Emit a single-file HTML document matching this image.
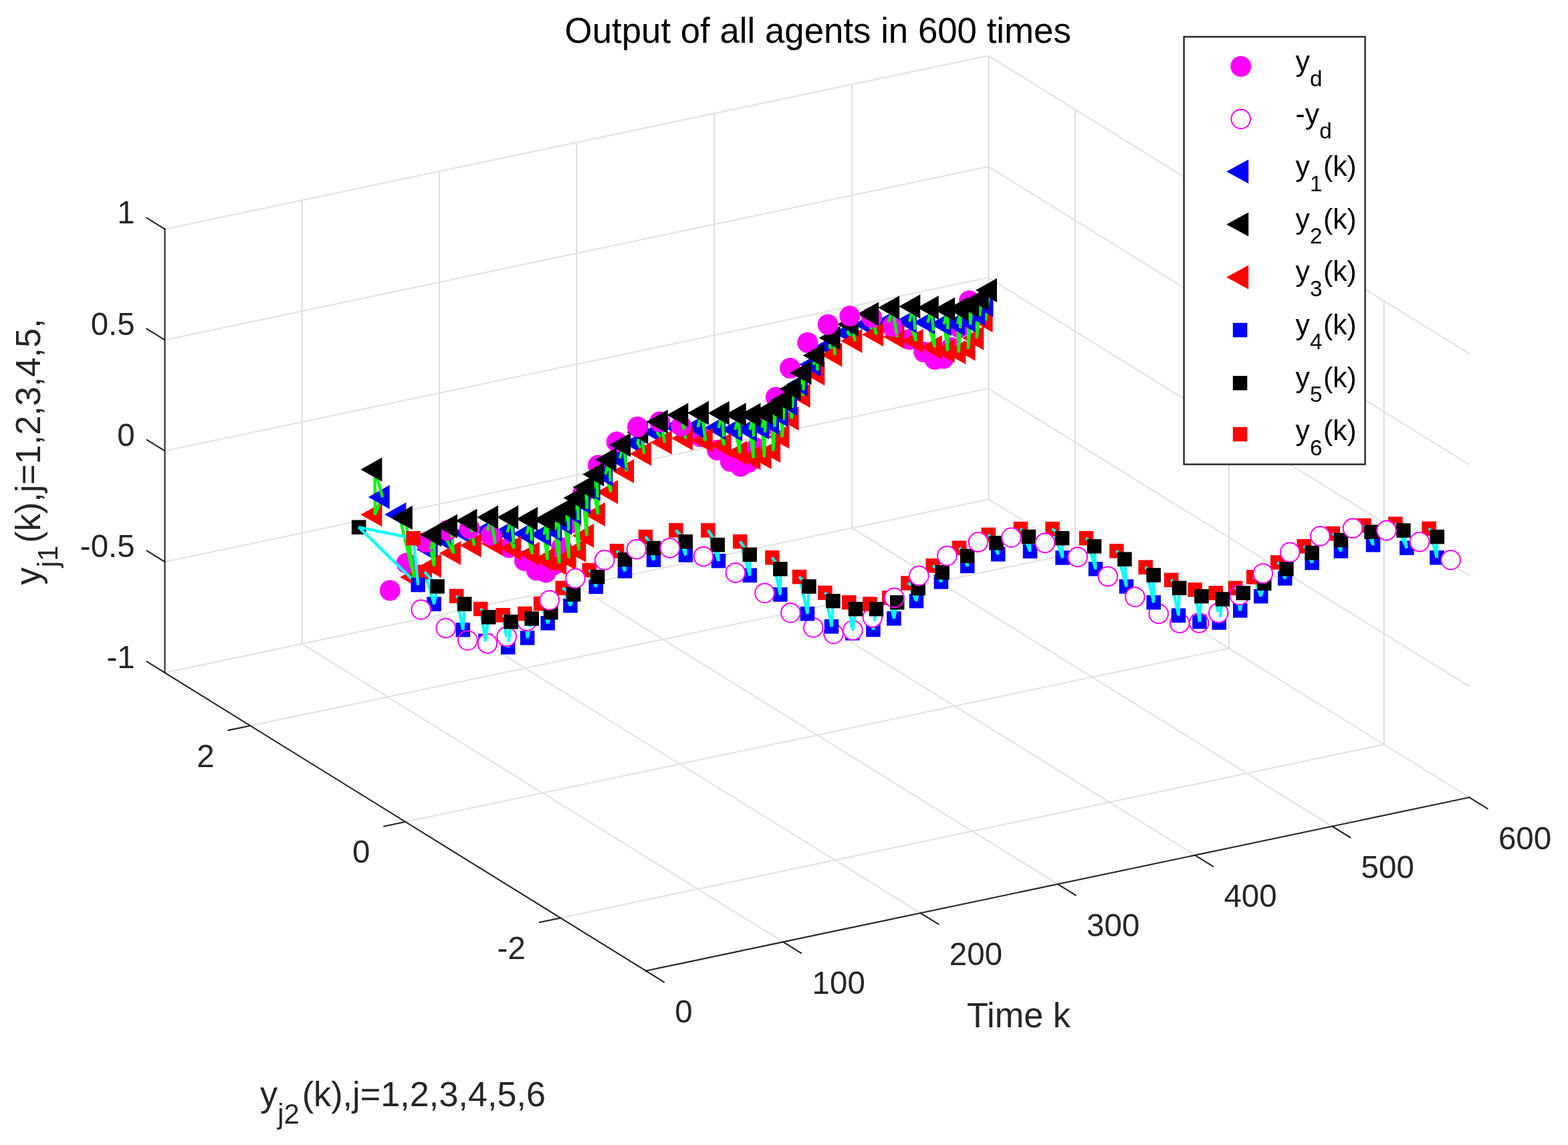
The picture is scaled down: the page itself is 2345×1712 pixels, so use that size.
<!DOCTYPE html>
<html><head><meta charset="utf-8"><title>Output of all agents in 600 times</title>
<style>html,body{margin:0;padding:0;background:#fff}svg{display:block}</style></head>
<body>
<svg width="2345" height="1712" viewBox="0 0 2345 1712" font-family="'Liberation Sans', sans-serif">
<g fill="none" stroke-linecap="butt">
<line x1="1171.3" y1="1408.4" x2="451.6" y2="962.7" stroke="#e3e3e3" stroke-width="2.1"/>
<line x1="1376.5" y1="1365.2" x2="657" y2="919.5" stroke="#e3e3e3" stroke-width="2.1"/>
<line x1="1581.8" y1="1321.9" x2="862.6" y2="876.2" stroke="#e3e3e3" stroke-width="2.1"/>
<line x1="1787.1" y1="1278.7" x2="1068" y2="832.9" stroke="#e3e3e3" stroke-width="2.1"/>
<line x1="1992.3" y1="1235.5" x2="1274.4" y2="789.5" stroke="#e3e3e3" stroke-width="2.1"/>
<line x1="2197.6" y1="1192.3" x2="1478.5" y2="746.5" stroke="#e3e3e3" stroke-width="2.1"/>
<line x1="372.6" y1="1085.4" x2="1607.8" y2="826.9" stroke="#e3e3e3" stroke-width="2.1"/>
<line x1="605.3" y1="1229" x2="1837.8" y2="969.4" stroke="#e3e3e3" stroke-width="2.1"/>
<line x1="838" y1="1372.6" x2="2069.8" y2="1113.1" stroke="#e3e3e3" stroke-width="2.1"/>
<line x1="246.5" y1="1005.9" x2="1478.1" y2="746.6" stroke="#e3e3e3" stroke-width="2.1"/>
<line x1="451.6" y1="962.7" x2="451.6" y2="299.4" stroke="#dfdfdf" stroke-width="2.2"/>
<line x1="657" y1="919.5" x2="657" y2="256.2" stroke="#dfdfdf" stroke-width="2.2"/>
<line x1="862.6" y1="876.2" x2="862.6" y2="212.9" stroke="#dfdfdf" stroke-width="2.2"/>
<line x1="1068" y1="832.9" x2="1068" y2="169.6" stroke="#dfdfdf" stroke-width="2.2"/>
<line x1="1274.4" y1="789.5" x2="1274.4" y2="126.2" stroke="#dfdfdf" stroke-width="2.2"/>
<line x1="1478.5" y1="746.5" x2="1478.5" y2="83.2" stroke="#dfdfdf" stroke-width="2.2"/>
<line x1="246.5" y1="840.1" x2="1478.1" y2="580.8" stroke="#e3e3e3" stroke-width="2.1"/>
<line x1="246.5" y1="674.2" x2="1478.1" y2="415" stroke="#e3e3e3" stroke-width="2.1"/>
<line x1="246.5" y1="508.4" x2="1478.1" y2="249.1" stroke="#e3e3e3" stroke-width="2.1"/>
<line x1="246.5" y1="342.6" x2="1478.1" y2="83.3" stroke="#e3e3e3" stroke-width="2.1"/>
<line x1="1607.8" y1="826.9" x2="1607.8" y2="163.6" stroke="#dfdfdf" stroke-width="2.2"/>
<line x1="1837.8" y1="969.4" x2="1837.8" y2="306.1" stroke="#dfdfdf" stroke-width="2.2"/>
<line x1="2069.8" y1="1113.1" x2="2069.8" y2="449.8" stroke="#dfdfdf" stroke-width="2.2"/>
<line x1="1478.1" y1="580.8" x2="2197.6" y2="1026.5" stroke="#e3e3e3" stroke-width="2.1"/>
<line x1="1478.1" y1="415" x2="2197.6" y2="860.6" stroke="#e3e3e3" stroke-width="2.1"/>
<line x1="1478.1" y1="249.1" x2="2197.6" y2="694.8" stroke="#e3e3e3" stroke-width="2.1"/>
<line x1="1478.1" y1="83.3" x2="2197.6" y2="529" stroke="#e3e3e3" stroke-width="2.1"/>
</g>
<g fill="none" stroke="#262626" stroke-width="2.1" stroke-linecap="square">
<line x1="246.5" y1="1005.9" x2="246.5" y2="342.6"/>
<line x1="246.5" y1="1005.9" x2="966" y2="1451.6"/>
<line x1="966" y1="1451.6" x2="2197.6" y2="1192.3"/>
<line x1="246.5" y1="1005.9" x2="219.6" y2="989.2"/>
<line x1="246.5" y1="840.1" x2="219.6" y2="823.4"/>
<line x1="246.5" y1="674.2" x2="219.6" y2="657.6"/>
<line x1="246.5" y1="508.4" x2="219.6" y2="491.7"/>
<line x1="246.5" y1="342.6" x2="219.6" y2="325.9"/>
<line x1="372.6" y1="1085.4" x2="341.6" y2="1091.9"/>
<line x1="605.3" y1="1229" x2="574.3" y2="1235.5"/>
<line x1="838" y1="1372.6" x2="807" y2="1379.1"/>
<line x1="966" y1="1451.6" x2="992.9" y2="1468.3"/>
<line x1="1171.3" y1="1408.4" x2="1198.2" y2="1425.1"/>
<line x1="1376.5" y1="1365.2" x2="1403.5" y2="1381.9"/>
<line x1="1581.8" y1="1321.9" x2="1608.7" y2="1338.6"/>
<line x1="1787.1" y1="1278.7" x2="1814" y2="1295.4"/>
<line x1="1992.3" y1="1235.5" x2="2019.3" y2="1252.2"/>
<line x1="2197.6" y1="1192.3" x2="2224.5" y2="1209"/>
</g>
<text x="201.7" y="998.9" font-size="47.5" text-anchor="end" fill="#262626">-1</text>
<text x="201.7" y="833.1" font-size="47.5" text-anchor="end" fill="#262626">-0.5</text>
<text x="201.7" y="667.3" font-size="47.5" text-anchor="end" fill="#262626">0</text>
<text x="201.7" y="501.4" font-size="47.5" text-anchor="end" fill="#262626">0.5</text>
<text x="201.7" y="333.6" font-size="47.5" text-anchor="end" fill="#262626">1</text>
<text x="320.6" y="1146.7" font-size="47.5" text-anchor="end" fill="#262626">2</text>
<text x="553.3" y="1290.3" font-size="47.5" text-anchor="end" fill="#262626">0</text>
<text x="786" y="1433.9" font-size="47.5" text-anchor="end" fill="#262626">-2</text>
<text x="1009.3" y="1529.1" font-size="47.5" text-anchor="start" fill="#262626">0</text>
<text x="1214.6" y="1485.9" font-size="47.5" text-anchor="start" fill="#262626">100</text>
<text x="1419.8" y="1442.7" font-size="47.5" text-anchor="start" fill="#262626">200</text>
<text x="1625.1" y="1399.5" font-size="47.5" text-anchor="start" fill="#262626">300</text>
<text x="1830.4" y="1356.2" font-size="47.5" text-anchor="start" fill="#262626">400</text>
<text x="2035.6" y="1313" font-size="47.5" text-anchor="start" fill="#262626">500</text>
<text x="2240.9" y="1269.8" font-size="47.5" text-anchor="start" fill="#262626">600</text>
<text x="1223.2" y="63.8" font-size="52.8" text-anchor="middle" fill="#000">Output of all agents in 600 times</text>
<text x="1523.5" y="1536.4" font-size="52.25" text-anchor="middle" fill="#262626">Time k</text>
<text x="389" y="1653.8" font-size="52.25" text-anchor="start" fill="#262626"><tspan>y</tspan><tspan font-size="41.8" dy="26.1">j2</tspan><tspan dy="-26.1" dx="4" font-size="1">&#8203;</tspan><tspan>(k),j=1,2,3,4,5,6</tspan></text>
<g transform="translate(59.9,874.4) rotate(-90)">
<text x="0" y="0" font-size="52.25" text-anchor="start" fill="#262626"><tspan>y</tspan><tspan font-size="41.8" dy="26.1">j1</tspan><tspan dy="-26.1" dx="4" font-size="1">&#8203;</tspan><tspan>(k),j=1,2,3,4,5,</tspan></text>
</g>
<g>
<circle cx="1449.7" cy="449.7" r="15.5" fill="#ff00ff"/>
<circle cx="1434.6" cy="489.7" r="15.5" fill="#ff00ff"/>
<path d="M1452.6 479l32 -18v36z" fill="#ff0000"/>
<path d="M1473.9 479.4L1474.1 474M1474.5 474.5L1473.8 479.4M1474.1 474.8L1474.3 469.4M1475.1 470.4L1474.4 475.3" stroke="#00ff00" stroke-width="4.3" fill="none"/>
<circle cx="1422.5" cy="519.8" r="15.5" fill="#ff00ff"/>
<path d="M1474.2 470.2L1474.5 464.8M1475.7 466.3L1475 471.2M1474.4 465.6L1474.6 460.2M1476.3 462.2L1475.6 467.1" stroke="#00ff00" stroke-width="4.3" fill="none"/>
<path d="M1439.3 505.5l32 -18v36z" fill="#ff0000"/>
<path d="M1460.6 505.9L1460.8 501M1461.2 500.9L1460.5 505.9M1474.6 461L1474.8 455.6M1476.9 458.1L1476.2 463" stroke="#00ff00" stroke-width="4.3" fill="none"/>
<path d="M1453.5 456l32 -18v36z" fill="#0000ff"/>
<path d="M1460.8 501.8L1461 497M1461.7 496.7L1461.1 501.7M1474.7 456.4L1476 451.2M1477.4 454.1L1476.8 458.9M1461 497.8L1461.3 492.9M1462.2 492.6L1461.6 497.5M1478 450L1477.3 454.9M1475.8 452L1477.1 446.8M1461.2 493.7L1461.5 488.9M1462.8 488.4L1462.1 493.4M1478.6 445.9L1477.9 450.8M1461.4 489.7L1461.7 484.8M1476.9 447.6L1478.2 442.4M1463.3 484.2L1462.7 489.2M1479.2 441.8L1478.5 446.7" stroke="#00ff00" stroke-width="4.3" fill="none"/>
<circle cx="1411.1" cy="536" r="15.5" fill="#ff00ff"/>
<path d="M1461.6 485.6L1461.9 480.8M1478 443.2L1479.3 438M1463.8 480L1463.2 485M1479.8 437.7L1479.1 442.6M1461.8 481.6L1462.1 476.7" stroke="#00ff00" stroke-width="4.3" fill="none"/>
<path d="M1426.6 521.4l32 -18v36z" fill="#ff0000"/>
<path d="M1464.4 475.9L1463.7 480.8M1479.1 438.8L1480.4 433.6M1462.1 477.5L1462.3 472.7M1447.9 521.8L1447.9 516.8M1448.3 517L1447.9 521.8M1480.4 433.6L1479.7 438.5" stroke="#00ff00" stroke-width="4.3" fill="none"/>
<path d="M1459 434l32 -18v36z" fill="#000000"/>
<path d="M1462.3 473.5L1462.5 468.6M1447.9 517.6L1448 512.5M1464.9 471.7L1464.2 476.6M1448.7 513L1448.2 517.8" stroke="#00ff00" stroke-width="4.3" fill="none"/>
<path d="M1441.2 469l32 -18v36z" fill="#0000ff"/>
<path d="M1448 513.3L1448 508.3M1449 508.9L1448.6 513.7M1462.4 469.4L1463.7 464.2M1465.4 467.5L1464.8 472.5M1448 509.1L1448 504M1449.4 504.9L1449 509.7M1465.9 463.3L1465.3 468.3M1463.5 465L1464.8 459.8M1448 504.8L1448.1 499.8M1449.7 500.9L1449.3 505.7M1466.5 459.1L1465.8 464.1M1448 500.6L1448.1 495.6M1464.6 460.6L1465.9 455.4M1450.1 496.9L1449.7 501.7M1467 455L1466.4 459.9M1448.1 496.4L1448.1 491.3M1450.5 492.8L1450 497.6M1465.7 456.2L1467 451M1467.5 450.8L1466.9 455.8M1448.1 492.1L1448.1 487.1M1450.8 488.8L1450.4 493.6M1448.1 487.9L1448.2 482.8M1466.8 451.8L1468.1 446.6M1468.1 446.6L1467.4 451.6" stroke="#00ff00" stroke-width="4.3" fill="none"/>
<circle cx="1398.2" cy="537.4" r="15.5" fill="#ff00ff"/>
<path d="M1412.3 526.7l32 -18v36z" fill="#ff0000"/>
<path d="M1451.2 484.8L1450.8 489.6" stroke="#00ff00" stroke-width="4.3" fill="none"/>
<path d="M1446.7 447l32 -18v36z" fill="#000000"/>
<path d="M1448.2 483.6L1448.2 478.6M1433.6 527.1L1433.5 522M1433.9 522.3L1433.6 527.1" stroke="#00ff00" stroke-width="4.3" fill="none"/>
<path d="M1426.9 479l32 -18v36z" fill="#0000ff"/>
<path d="M1451.6 480.8L1451.1 485.6M1433.5 522.8L1433.3 517.8M1434.2 518.2L1433.8 523.1M1448.1 479.4L1449.4 474.2M1451.9 476.7L1451.5 481.5M1433.4 518.6L1433.2 513.5M1434.4 514.2L1434.1 519M1449.2 475L1450.5 469.8M1452.3 472.7L1451.9 477.5M1433.2 514.3L1433.1 509.2M1434.7 510.1L1434.4 515M1433.1 510L1432.9 505M1452.6 468.7L1452.2 473.5M1450.3 470.6L1451.6 465.4M1434.9 506.1L1434.6 510.9M1433 505.7L1432.8 500.7M1453 464.7L1452.6 469.5M1435.2 502L1434.9 506.9M1451.4 466.2L1452.7 461M1432.8 501.5L1432.7 496.4M1453.4 460.6L1452.9 465.4M1435.5 498L1435.1 502.8M1432.7 497.2L1432.5 492.1M1452.5 461.8L1453.8 456.6M1453.7 456.6L1453.3 461.4M1435.7 494L1435.4 498.8M1432.6 492.9L1432.4 487.9" stroke="#00ff00" stroke-width="4.3" fill="none"/>
<path d="M1432.4 457l32 -18v36z" fill="#000000"/>
<path d="M1436 489.9L1435.7 494.7M1432.4 488.7L1432.3 483.6" stroke="#00ff00" stroke-width="4.3" fill="none"/>
<path d="M1411 484l32 -18v36z" fill="#0000ff"/>
<path d="M1436.3 485.9L1435.9 490.7" stroke="#00ff00" stroke-width="4.3" fill="none"/>
<path d="M1395.8 524.6l32 -18v36z" fill="#ff0000"/>
<path d="M1432.2 484.4L1433.5 479.2M1417.2 525L1416.5 520.2M1417.1 520.1L1417.1 525M1436.5 481.8L1436.2 486.7M1416.6 521L1416 516.2M1417.1 515.9L1417.1 520.9M1433.3 480L1434.6 474.8M1416.1 517L1415.5 512.2" stroke="#00ff00" stroke-width="4.3" fill="none"/>
<circle cx="1381.7" cy="526.2" r="15.5" fill="#ff00ff"/>
<path d="M1436.8 477.8L1436.5 482.6M1417.2 511.8L1417.1 516.7M1415.6 513L1415 508.2M1437 473.7L1436.7 478.6M1434.4 475.6L1435.7 470.4M1415.1 509L1414.4 504.2M1417.2 507.7L1417.2 512.6M1414.6 505L1413.9 500.2M1437.3 469.7L1437 474.5M1417.2 503.5L1417.2 508.5M1435.5 471.2L1436.8 466M1414 501L1413.4 496.2M1437.6 465.6L1437.2 470.5M1417.2 499.4L1417.2 504.3M1413.5 497L1412.9 492.2M1436.6 466.8L1437.9 461.6M1437.8 461.6L1437.5 466.4M1413 493L1412.4 488.2M1417.2 495.3L1417.2 500.2" stroke="#00ff00" stroke-width="4.3" fill="none"/>
<path d="M1416.5 462l32 -18v36z" fill="#000000"/>
<path d="M1412.5 489L1411.8 484.2M1417.3 491.1L1417.2 496.1" stroke="#00ff00" stroke-width="4.3" fill="none"/>
<path d="M1390.6 484.6l32 -18v36z" fill="#0000ff"/>
<path d="M1411.8 485L1413.1 479.8M1417.3 487L1417.3 491.9M1417.3 482.9L1417.3 487.8M1412.9 480.6L1414.2 475.4" stroke="#00ff00" stroke-width="4.3" fill="none"/>
<path d="M1376.7 519.3l32 -18v36z" fill="#ff0000"/>
<path d="M1398.1 519.7L1396.7 514.8M1397.6 514.7L1398 519.7M1417.3 478.7L1417.3 483.7M1397 515.5L1395.6 510.6M1414 476.2L1415.3 471M1397.3 510.4L1397.7 515.5M1395.8 511.4L1394.4 506.5M1417.3 474.6L1417.3 479.5M1394.6 507.3L1393.3 502.3M1396.9 506.2L1397.3 511.2M1393.5 503.1L1392.1 498.2M1417.4 470.5L1417.3 475.4M1415.1 471.8L1416.4 466.6M1392.3 499L1391 494M1396.6 502L1397 507M1417.4 466.3L1417.4 471.3M1391.2 494.8L1389.8 489.9M1396.2 497.7L1396.6 502.8M1390 490.7L1388.6 485.8M1416.2 467.4L1417.5 462.2" stroke="#00ff00" stroke-width="4.3" fill="none"/>
<circle cx="1360.3" cy="507.5" r="15.5" fill="#ff00ff"/>
<path d="M1417.4 462.2L1417.4 467.1M1388.9 486.5L1387.5 481.6M1395.9 493.5L1396.3 498.5" stroke="#00ff00" stroke-width="4.3" fill="none"/>
<path d="M1366.3 482l32 -18v36z" fill="#0000ff"/>
<path d="M1396.1 462.6l32 -18v36z" fill="#000000"/>
<path d="M1387.5 482.4L1388.8 477.2M1395.5 489.3L1395.9 494.3M1395.2 485L1395.6 490M1388.6 478L1389.9 472.8M1394.8 480.8L1395.2 485.8" stroke="#00ff00" stroke-width="4.3" fill="none"/>
<path d="M1348.6 509.8l32 -18v36z" fill="#ff0000"/>
<path d="M1370 510.2L1368.4 505.2M1369.5 505.1L1369.9 510.2M1368.6 506L1367 501M1394.5 476.5L1394.9 481.6M1389.7 473.6L1391 468.4M1367.2 501.8L1365.6 496.8M1369.2 500.8L1369.6 505.9M1365.8 497.5L1364.2 492.6M1394.1 472.3L1394.5 477.3M1364.4 493.3L1362.8 488.3M1368.8 496.5L1369.2 501.6M1363 489.1L1361.4 484.1M1390.8 469.2L1392.1 464M1393.8 468.1L1394.2 473.1M1361.6 484.9L1360 479.9M1368.4 492.2L1368.9 497.3" stroke="#00ff00" stroke-width="4.3" fill="none"/>
<path d="M1338.8 480.3l32 -18v36z" fill="#0000ff"/>
<path d="M1393.4 463.8L1393.8 468.9M1360 480.7L1361.3 475.5M1368.1 487.9L1368.5 493M1391.9 464.8L1393.2 459.6M1393.1 459.6L1393.5 464.6" stroke="#00ff00" stroke-width="4.3" fill="none"/>
<path d="M1371.8 460l32 -18v36z" fill="#000000"/>
<path d="M1367.7 483.7L1368.1 488.7M1361.1 476.3L1362.4 471.1M1367.4 479.4L1367.8 484.4M1367 475.1L1367.4 480.2" stroke="#00ff00" stroke-width="4.3" fill="none"/>
<path d="M1320.5 503.4l32 -18v36z" fill="#ff0000"/>
<path d="M1342 503.7L1339.5 499.4M1339.9 500.1L1337.3 495.8M1337.7 496.5L1335.2 492.2M1335.6 492.9L1333.1 488.6M1333.5 489.3L1330.9 485M1331.3 485.7L1328.8 481.4" stroke="#00ff00" stroke-width="4.3" fill="none"/>
<path d="M1307.7 481.7l32 -18v36z" fill="#0000ff"/>
<path d="M1362.2 471.9L1363.5 466.7M1341.1 499.1L1341.9 503.8" stroke="#00ff00" stroke-width="4.3" fill="none"/>
<circle cx="1334" cy="488" r="15.5" fill="#ff00ff"/>
<path d="M1366.6 470.8L1367.1 475.9M1328.9 482.1L1330.2 477M1340.4 495.1L1341.2 499.8M1363.3 467.5L1364.6 462.3M1366.3 466.5L1366.7 471.6M1339.7 491.2L1340.5 495.9M1330 477.7L1331.3 472.6M1339.1 487.2L1339.9 492M1365.9 462.2L1366.3 467.3M1338.4 483.3L1339.2 488M1364.4 463.1L1365.7 457.9" stroke="#00ff00" stroke-width="4.3" fill="none"/>
<path d="M1276.6 484.9l32 -18v36z" fill="#0000ff"/>
<path d="M1365.6 457.9L1366 463M1301.3 489L1297.6 484.5M1337.8 479.3L1338.5 484.1M1331.1 473.4L1332.4 468.3M1304.5 492.8L1300.8 488.4" stroke="#00ff00" stroke-width="4.3" fill="none"/>
<path d="M1344.3 458.3l32 -18v36z" fill="#000000"/>
<circle cx="1143.9" cy="636.1" r="15.5" fill="#ff00ff"/>
<path d="M1297.8 485.2L1299.4 480.6M1307.6 496.7L1303.9 492.2" stroke="#00ff00" stroke-width="4.3" fill="none"/>
<circle cx="1160.3" cy="594.1" r="15.5" fill="#ff00ff"/>
<path d="M1337.1 475.4L1337.9 480.1M1310.8 500.5L1307.1 496.1" stroke="#00ff00" stroke-width="4.3" fill="none"/>
<path d="M1179.6 591.7l32 -18v36z" fill="#ff0000"/>
<path d="M1289.2 500.2l32 -18v36z" fill="#ff0000"/>
<path d="M1246.5 497.4l32 -18v36z" fill="#0000ff"/>
<path d="M1201.4 558.4l32 -18v36z" fill="#ff0000"/>
<path d="M1201 592.1L1199.9 587M1270.8 500.8L1267.5 497.1M1309.4 495.4L1310.6 500.6M1222.9 558.8L1220.5 553.6M1336.4 471.4L1337.2 476.2M1201.2 587L1200.9 592.1M1273.5 503.9L1270.3 500.2M1332.2 469.1L1333.5 464M1220.8 554.3L1218.5 549.1" stroke="#00ff00" stroke-width="4.3" fill="none"/>
<path d="M1219.2 517.8l32 -18v36z" fill="#0000ff"/>
<path d="M1222.6 553.5L1222.7 558.8M1243.5 522.3L1240.3 517.5M1246.2 526.5L1243 521.7M1248.9 530.7L1245.7 525.9M1299.1 481.4L1300.8 476.8M1218.8 549.8L1216.4 544.6M1276.2 507L1273 503.3" stroke="#00ff00" stroke-width="4.3" fill="none"/>
<path d="M1227.4 530.4l32 -18v36z" fill="#ff0000"/>
<path d="M1200.1 587.8L1199 582.7M1267.6 497.8L1269.8 492.9M1308.4 491L1309.6 496.2" stroke="#00ff00" stroke-width="4.3" fill="none"/>
<path d="M1195.3 545l32 -18v36z" fill="#0000ff"/>
<path d="M1335.8 467.5L1336.6 472.2M1279 510.1L1275.7 506.4" stroke="#00ff00" stroke-width="4.3" fill="none"/>
<path d="M1162.6 625.7l32 -18v36z" fill="#ff0000"/>
<path d="M1248.2 525.8L1248.7 530.8" stroke="#00ff00" stroke-width="4.3" fill="none"/>
<path d="M1257.4 509.8l32 -18v36z" fill="#ff0000"/>
<path d="M1240.3 518.2L1242.5 513.2M1201.4 582.7L1201.1 587.8M1199.2 583.5L1198.1 578.4M1307.4 486.7L1308.6 491.8M1277.7 505.3L1278.8 510.2M1183.9 626.1L1183.3 620.8M1335.1 463.6L1335.9 468.3M1222.5 549L1222.6 554.3M1184.2 621.3L1183.9 626.1M1216.4 545.3L1218.6 540.1M1333.3 464.7L1334.6 459.6M1247.8 521.6L1248.3 526.6" stroke="#00ff00" stroke-width="4.3" fill="none"/>
<circle cx="1181.6" cy="550.5" r="15.5" fill="#ff00ff"/>
<path d="M1306.4 482.3L1307.5 487.4M1198.3 579.2L1197.2 574.2M1300.5 477.6L1302.2 473" stroke="#00ff00" stroke-width="4.3" fill="none"/>
<circle cx="1131" cy="670.1" r="15.5" fill="#ff00ff"/>
<path d="M1276.8 501.1L1277.9 506.1M1334.4 459.6L1335.2 464.3" stroke="#00ff00" stroke-width="4.3" fill="none"/>
<path d="M1176 574.5l32 -18v36z" fill="#0000ff"/>
<path d="M1183.4 621.6L1182.8 616.4M1269.5 493.6L1271.6 488.8M1201.6 578.4L1201.4 583.5" stroke="#00ff00" stroke-width="4.3" fill="none"/>
<path d="M1313.2 460l32 -18v36z" fill="#000000"/>
<path d="M1222.4 544.6L1222.5 549.8M1305.3 477.9L1306.5 483M1184.5 617.2L1184.1 622.1M1247.3 517.4L1247.8 522.4M1275.9 497L1277 501.9M1242.2 514L1244.3 509" stroke="#00ff00" stroke-width="4.3" fill="none"/>
<circle cx="1303.6" cy="474.5" r="15.5" fill="#ff00ff"/>
<path d="M1197.2 574.9L1198.8 569.9M1182.9 617.2L1182.3 611.9M1304.3 473.5L1305.5 478.7M1275 492.9L1276.1 497.8M1218.3 540.8L1220.4 535.6M1301.9 473.7L1303.5 469.1M1246.9 513.2L1247.4 518.2M1201.9 574.2L1201.6 579.2M1222.3 540.1L1222.4 545.3M1184.7 613.2L1184.4 618M1303.3 469.1L1304.5 474.3M1274.1 488.7L1275.2 493.7M1182.4 612.7L1181.8 607.5M1271.3 489.5L1273.5 484.6" stroke="#00ff00" stroke-width="4.3" fill="none"/>
<path d="M1282.1 469.5l32 -18v36z" fill="#000000"/>
<path d="M1246.4 509L1246.9 514M1222.2 535.6L1222.3 540.9M1273.2 484.6L1274.3 489.5M1202.1 569.9L1201.8 574.9M1198.6 570.6L1200.2 565.6M1244 509.8L1246.2 504.8M1185 609.2L1184.7 614M1181.9 608.3L1181.3 603" stroke="#00ff00" stroke-width="4.3" fill="none"/>
<path d="M1252 485l32 -18v36z" fill="#000000"/>
<circle cx="1207.8" cy="512.3" r="15.5" fill="#ff00ff"/>
<path d="M1148.4 653l32 -18v36z" fill="#ff0000"/>
<path d="M1246 504.8L1246.5 509.8M1220.1 536.4L1222.3 531.1" stroke="#00ff00" stroke-width="4.3" fill="none"/>
<path d="M1160 603.4l32 -18v36z" fill="#0000ff"/>
<path d="M1169.7 653.4L1169.5 648.5" stroke="#00ff00" stroke-width="4.3" fill="none"/>
<path d="M1224.7 505.2l32 -18v36z" fill="#000000"/>
<path d="M1222.1 531.1L1222.2 536.4M1170 648.4L1169.7 653.4M1202.3 565.6L1202.1 570.7M1185.2 605.2L1184.9 610M1181.2 603.8L1182.5 598.6" stroke="#00ff00" stroke-width="4.3" fill="none"/>
<path d="M1200.8 531.5l32 -18v36z" fill="#000000"/>
<path d="M1199.9 566.4L1201.5 561.3M1169.5 649.3L1169.3 644.5M1170.3 644.2L1170 649.2M1202.6 561.3L1202.3 566.4M1185.5 601.1L1185.2 606" stroke="#00ff00" stroke-width="4.3" fill="none"/>
<circle cx="1270.9" cy="472.6" r="15.5" fill="#ff00ff"/>
<circle cx="1238.2" cy="485.3" r="15.5" fill="#ff00ff"/>
<path d="M1169.3 645.3L1169.1 640.4M1182.3 599.4L1183.6 594.2M1201.3 562.1L1202.9 557M1170.6 640L1170.3 645M1185.8 597.1L1185.5 601.9M1202.8 557L1202.5 562.1M1169.1 641.2L1168.9 636.4" stroke="#00ff00" stroke-width="4.3" fill="none"/>
<path d="M1181.5 557.4l32 -18v36z" fill="#000000"/>
<circle cx="1119.7" cy="691.2" r="15.5" fill="#ff00ff"/>
<path d="M1186 593.1L1185.7 597.9M1183.4 595L1184.7 589.8M1170.9 635.8L1170.6 640.8M1168.9 637.1L1168.7 632.3M1168.7 633.1L1168.5 628.2M1186.3 589.1L1186 593.9M1171.2 631.6L1170.9 636.6M1184.5 590.6L1185.8 585.4M1168.5 629L1168.3 624.2" stroke="#00ff00" stroke-width="4.3" fill="none"/>
<path d="M1135.2 674l32 -18v36z" fill="#ff0000"/>
<path d="M1186.6 585L1186.2 589.9M1171.5 627.4L1171.2 632.4M1156.5 674.4L1156.3 669.4M1156.7 669.6L1156.5 674.4M1168.3 625L1168.1 620.1M1185.6 586.2L1186.9 581M1186.8 581L1186.5 585.8" stroke="#00ff00" stroke-width="4.3" fill="none"/>
<path d="M1146.8 620.5l32 -18v36z" fill="#0000ff"/>
<path d="M1171.8 623.3L1171.5 628.2M1156.3 670.2L1156.1 665.2M1157 665.6L1156.7 670.4" stroke="#00ff00" stroke-width="4.3" fill="none"/>
<path d="M1165.5 581.4l32 -18v36z" fill="#000000"/>
<path d="M1168 620.9L1169.3 615.7M1156.1 666L1155.9 661M1172.1 619.1L1171.8 624.1M1157.2 661.6L1156.9 666.4M1155.9 661.8L1155.7 656.8M1169.1 616.5L1170.4 611.3M1172.4 614.9L1172.1 619.9M1157.4 657.6L1157.1 662.4M1155.7 657.6L1155.5 652.6M1172.7 610.7L1172.4 615.7M1157.6 653.6L1157.4 658.4M1170.2 612.1L1171.5 606.9M1155.5 653.4L1155.3 648.4M1157.8 649.6L1157.6 654.4M1173 606.5L1172.7 611.5M1155.3 649.2L1155.1 644.2M1171.3 607.7L1172.6 602.5M1158.1 645.6L1157.8 650.4M1173.3 602.3L1173 607.3M1155.1 645L1154.9 640" stroke="#00ff00" stroke-width="4.3" fill="none"/>
<circle cx="1107.5" cy="697.4" r="15.5" fill="#ff00ff"/>
<path d="M1172.4 603.3L1173.7 598.1M1158.3 641.6L1158 646.4M1154.9 640.8L1154.7 635.8M1173.6 598.1L1173.3 603.1" stroke="#00ff00" stroke-width="4.3" fill="none"/>
<path d="M1152.3 598.5l32 -18v36z" fill="#000000"/>
<path d="M1121.7 683.5l32 -18v36z" fill="#ff0000"/>
<path d="M1154.7 636.6L1154.5 631.6M1158.5 637.6L1158.2 642.4M1143 683.9L1142.7 679.1M1143.1 678.9L1143 683.9" stroke="#00ff00" stroke-width="4.3" fill="none"/>
<path d="M1133.2 632l32 -18v36z" fill="#0000ff"/>
<path d="M1158.7 633.6L1158.4 638.4M1142.7 679.9L1142.3 675M1154.4 632.4L1155.7 627.2M1143.3 674.8L1143.1 679.7M1142.4 675.8L1142 671M1158.9 629.6L1158.7 634.4M1143.4 670.6L1143.2 675.6M1155.5 628L1156.8 622.8M1142.1 671.8L1141.7 666.9M1159.1 625.6L1158.9 630.4M1143.5 666.5L1143.4 671.4M1141.8 667.7L1141.4 662.9M1156.6 623.6L1157.9 618.4M1159.4 621.6L1159.1 626.4M1141.4 663.7L1141.1 658.8M1143.6 662.3L1143.5 667.3M1159.6 617.6L1159.3 622.4M1141.1 659.6L1140.7 654.8M1143.8 658.2L1143.6 663.1M1157.7 619.2L1159 614M1140.8 655.6L1140.4 650.7M1159.8 613.6L1159.5 618.4M1143.9 654L1143.7 659M1140.5 651.5L1140.1 646.7M1158.8 614.8L1160.1 609.6M1160 609.6L1159.8 614.4M1144 649.9L1143.9 654.8M1140.2 647.5L1139.8 642.6" stroke="#00ff00" stroke-width="4.3" fill="none"/>
<path d="M1138.7 610l32 -18v36z" fill="#000000"/>
<path d="M1139.8 643.4L1139.5 638.6M1144.1 645.7L1144 650.6" stroke="#00ff00" stroke-width="4.3" fill="none"/>
<path d="M1118.2 639l32 -18v36z" fill="#0000ff"/>
<path d="M1105.5 684.5l32 -18v36z" fill="#ff0000"/>
<path d="M1144.3 641.5L1144.1 646.5M1126.9 684.9L1126.2 679.9M1139.4 639.4L1140.7 634.2M1126.8 680.1L1126.8 684.9M1126.3 680.7L1125.6 675.7M1144.4 637.4L1144.2 642.3" stroke="#00ff00" stroke-width="4.3" fill="none"/>
<circle cx="1092.4" cy="690" r="15.5" fill="#ff00ff"/>
<path d="M1126.8 676.1L1126.8 680.9M1140.5 635L1141.8 629.8M1125.8 676.5L1125.1 671.5M1144.5 633.2L1144.4 638.2M1126.8 672.1L1126.8 676.9M1125.2 672.3L1124.5 667.3M1126.8 668.1L1126.8 672.9M1141.6 630.6L1142.9 625.4M1144.6 629.1L1144.5 634M1124.7 668.1L1124 663.1M1126.8 664.1L1126.8 668.9M1124.1 663.8L1123.4 658.8M1144.8 624.9L1144.6 629.9M1142.7 626.2L1144 621M1123.6 659.6L1122.9 654.6M1126.8 660.1L1126.8 664.9M1144.9 620.8L1144.7 625.7M1123 655.4L1122.3 650.4M1126.8 656.1L1126.8 660.9M1143.8 621.8L1145.1 616.6M1145 616.6L1144.9 621.6M1122.5 651.2L1121.8 646.2" stroke="#00ff00" stroke-width="4.3" fill="none"/>
<path d="M1123.7 617l32 -18v36z" fill="#000000"/>
<path d="M1126.8 652.1L1126.8 656.9M1121.9 647L1121.2 642" stroke="#00ff00" stroke-width="4.3" fill="none"/>
<path d="M1100 642.4l32 -18v36z" fill="#0000ff"/>
<path d="M1126.8 648L1126.8 652.9M1121.2 642.8L1122.5 637.6M1126.8 644L1126.8 648.8M1126.8 640L1126.8 644.8" stroke="#00ff00" stroke-width="4.3" fill="none"/>
<path d="M1085.3 677l32 -18v36z" fill="#ff0000"/>
<path d="M1122.3 638.4L1123.6 633.2M1106.7 677.4L1105.6 672.3M1106.5 672.5L1106.6 677.4M1126.8 636L1126.8 640.8M1105.8 673L1104.7 667.9M1106.4 668.5L1106.5 673.3M1123.4 634L1124.7 628.8M1104.9 668.7L1103.9 663.6M1126.8 632L1126.8 636.8M1106.2 664.4L1106.4 669.3M1104 664.3L1103 659.2M1126.8 628L1126.8 632.8M1124.5 629.6L1125.8 624.4M1103.1 660L1102.1 654.9M1106.1 660.4L1106.3 665.2M1102.2 655.6L1101.2 650.5M1126.8 624L1126.8 628.8" stroke="#00ff00" stroke-width="4.3" fill="none"/>
<circle cx="1072.7" cy="673.1" r="15.5" fill="#ff00ff"/>
<path d="M1106 656.3L1106.2 661.2M1101.4 651.3L1100.3 646.2M1125.6 625.2L1126.9 620M1126.8 620L1126.8 624.8M1105.9 652.3L1106 657.1M1100.5 646.9L1099.4 641.8" stroke="#00ff00" stroke-width="4.3" fill="none"/>
<path d="M1105.5 620.4l32 -18v36z" fill="#000000"/>
<path d="M1078.2 642.2l32 -18v36z" fill="#0000ff"/>
<path d="M1105.8 648.2L1105.9 653.1M1099.4 642.6L1100.7 637.4M1105.7 644.1L1105.8 649M1100.5 638.2L1101.8 633M1105.6 640.1L1105.7 644.9M1105.4 636L1105.6 640.9M1101.6 633.8L1102.9 628.6M1105.3 632L1105.5 636.8" stroke="#00ff00" stroke-width="4.3" fill="none"/>
<path d="M1061.7 665.4l32 -18v36z" fill="#ff0000"/>
<path d="M1083.1 665.8L1081.5 660.7M1082.7 660.7L1083 665.8M1081.7 661.5L1080 656.5M1105.2 627.9L1105.4 632.8M1102.7 629.4L1104 624.2M1080.3 657.2L1078.6 652.2M1082.4 656.3L1082.8 661.5M1078.9 652.9L1077.2 647.9M1105.1 623.9L1105.2 628.7M1077.5 648.6L1075.8 643.6M1082.2 652L1082.5 657.1M1103.8 625L1105.1 619.8M1076 644.4L1074.4 639.3M1105 619.8L1105.1 624.7" stroke="#00ff00" stroke-width="4.3" fill="none"/>
<path d="M1053.2 639.7l32 -18v36z" fill="#0000ff"/>
<path d="M1083.7 620.2l32 -18v36z" fill="#000000"/>
<path d="M1081.9 647.7L1082.2 652.8M1074.4 640.1L1075.7 634.9M1081.6 643.3L1081.9 648.5M1075.5 635.7L1076.8 630.5M1081.3 639L1081.7 644.1" stroke="#00ff00" stroke-width="4.3" fill="none"/>
<circle cx="1048" cy="653.1" r="15.5" fill="#ff00ff"/>
<path d="M1081.1 634.6L1081.4 639.8M1076.6 631.3L1077.9 626.1" stroke="#00ff00" stroke-width="4.3" fill="none"/>
<path d="M1033.8 658.5l32 -18v36z" fill="#ff0000"/>
<path d="M1055.3 658.9L1052.6 654.1M1080.8 630.3L1081.1 635.4M1053 654.8L1050.4 650M1050.8 650.7L1048.1 645.9M1048.5 646.6L1045.9 641.8M1054.5 654L1055.2 658.9M1046.3 642.5L1043.6 637.7" stroke="#00ff00" stroke-width="4.3" fill="none"/>
<path d="M1022.5 638l32 -18v36z" fill="#0000ff"/>
<path d="M1080.5 626L1080.8 631.1M1077.7 626.9L1079 621.7M1053.9 649.9L1054.6 654.8M1043.7 638.4L1045 633.6M1053.3 645.8L1054 650.7M1080.2 621.6L1080.6 626.8M1044.8 634.3L1046.1 629.5M1078.8 622.5L1080.1 617.3M1052.7 641.7L1053.4 646.6M1080 617.3L1080.3 622.4" stroke="#00ff00" stroke-width="4.3" fill="none"/>
<path d="M1058.7 617.7l32 -18v36z" fill="#000000"/>
<path d="M1052.1 637.7L1052.8 642.5M1045.9 630.3L1047.2 625.4M1051.6 633.6L1052.3 638.4" stroke="#00ff00" stroke-width="4.3" fill="none"/>
<path d="M991.8 638l32 -18v36z" fill="#0000ff"/>
<path d="M1015.8 641.8L1012.9 637.6M1018.2 645.3L1015.3 641.1M1051 629.5L1051.7 634.4" stroke="#00ff00" stroke-width="4.3" fill="none"/>
<circle cx="853.6" cy="781.7" r="15.5" fill="#ff00ff"/>
<path d="M1020.7 648.8L1017.8 644.6M1023.2 652.3L1020.3 648.2M1025.6 655.8L1022.7 651.7" stroke="#00ff00" stroke-width="4.3" fill="none"/>
<path d="M1004.1 655.5l32 -18v36z" fill="#ff0000"/>
<path d="M1047 626.2L1048.3 621.3M1013 638.3L1014.6 633.2M1050.4 625.4L1051.1 630.3M1024.5 650.7L1025.5 655.9" stroke="#00ff00" stroke-width="4.3" fill="none"/>
<circle cx="871.5" cy="738.3" r="15.5" fill="#ff00ff"/>
<path d="M1023.6 646.3L1024.6 651.5M1049.8 621.3L1050.5 626.2" stroke="#00ff00" stroke-width="4.3" fill="none"/>
<circle cx="839.7" cy="819" r="15.5" fill="#ff00ff"/>
<path d="M1048.1 622.1L1049.4 617.2" stroke="#00ff00" stroke-width="4.3" fill="none"/>
<path d="M961.2 646l32 -18v36z" fill="#0000ff"/>
<path d="M985.6 650.2L982.3 645.7" stroke="#00ff00" stroke-width="4.3" fill="none"/>
<path d="M892.2 735.7l32 -18v36z" fill="#ff0000"/>
<path d="M1014.4 633.9L1016 628.8M1022.8 641.9L1023.8 647.1" stroke="#00ff00" stroke-width="4.3" fill="none"/>
<circle cx="1018.7" cy="636.9" r="15.5" fill="#ff00ff"/>
<path d="M1049.2 617.2L1049.9 622.1M988.5 654.1L985.2 649.6M913.6 736.1L912.1 730.9M991.4 658L988.1 653.5M913.3 731.3L913.5 736.1" stroke="#00ff00" stroke-width="4.3" fill="none"/>
<path d="M1028 617.6l32 -18v36z" fill="#000000"/>
<path d="M982.4 646.4L984 641.8M994.3 661.8L991 657.3" stroke="#00ff00" stroke-width="4.3" fill="none"/>
<path d="M916.1 704.4l32 -18v36z" fill="#ff0000"/>
<path d="M872.9 769l32 -18v36z" fill="#ff0000"/>
<path d="M931.9 662.3l32 -18v36z" fill="#0000ff"/>
<path d="M937.6 704.8L935.1 700.1M956 666.7L953 662" stroke="#00ff00" stroke-width="4.3" fill="none"/>
<path d="M972.8 661.5l32 -18v36z" fill="#ff0000"/>
<path d="M1021.9 637.6L1022.9 642.7M958.5 670.7L955.5 666M961.1 674.7L958.1 670M912.3 731.7L910.8 726.5M935.5 700.8L933.1 696.2M963.6 678.7L960.6 674" stroke="#00ff00" stroke-width="4.3" fill="none"/>
<path d="M942.1 678.4l32 -18v36z" fill="#ff0000"/>
<path d="M933.4 696.9L931 692.3M894.3 769.4L893.3 764.4M936.8 699.6L937.4 704.8M931.3 693L928.9 688.4M993.2 656.7L994.2 661.9M894.1 764.3L894.2 769.4M929.3 689.1L926.8 684.4M962.8 674L963.5 678.8" stroke="#00ff00" stroke-width="4.3" fill="none"/>
<path d="M905.7 684.8l32 -18v36z" fill="#0000ff"/>
<path d="M913.1 727.2L913.3 732.1M911 727.3L909.5 722.1M953.1 662.7L954.7 658M1021.1 633.2L1022.1 638.3M1015.7 629.6L1017.3 624.4M893.5 765.2L892.5 760.2M992.3 652.3L993.3 657.5M936.3 695.3L936.9 700.4M909.7 722.8L908.2 717.6M926.9 685.2L928.2 680.5M962.2 670L962.9 674.8" stroke="#00ff00" stroke-width="4.3" fill="none"/>
<circle cx="894.5" cy="695.8" r="15.5" fill="#ff00ff"/>
<path d="M983.7 642.6L985.4 637.9M894 760.1L894.1 765.1M1020.2 628.8L1021.2 634M912.9 723.2L913.1 728M892.7 761L891.8 756M908.4 718.4L906.9 713.2M991.4 647.9L992.4 653.1M961.6 666L962.3 670.8" stroke="#00ff00" stroke-width="4.3" fill="none"/>
<path d="M856.2 800.9l32 -18v36z" fill="#ff0000"/>
<path d="M935.7 690.9L936.4 696.1M1019.4 624.4L1020.4 629.6M954.4 658.7L956.1 653.9M907.1 714L905.6 708.8M891.9 756.8L891 751.8M893.8 755.8L894 760.9M877.5 801.3L877 796.3M912.7 719.1L912.9 724M877.5 796.5L877.5 801.3M1017.1 625.2L1018.7 620M990.5 643.5L991.6 648.6" stroke="#00ff00" stroke-width="4.3" fill="none"/>
<path d="M884.4 709.2l32 -18v36z" fill="#0000ff"/>
<path d="M928 681.3L929.3 676.6M961 662L961.7 666.8M985.1 638.7L986.8 634.1M935.2 686.6L935.8 691.7M1018.5 620L1019.5 625.2M891.1 752.6L890.2 747.6M877.1 797.1L876.6 792.1M989.7 639L990.7 644.2" stroke="#00ff00" stroke-width="4.3" fill="none"/>
<path d="M997.3 620.4l32 -18v36z" fill="#000000"/>
<path d="M912.5 715.1L912.8 719.9M905.6 709.6L906.9 704.4M893.7 751.5L893.9 756.6M960.4 657.9L961.1 662.7M877.5 792.5L877.5 797.3M934.6 682.2L935.3 687.4M955.8 654.7L957.5 649.9M890.3 748.4L889.4 743.4M988.8 634.6L989.8 639.8M929.1 677.3L930.4 672.7M876.7 792.9L876.2 787.9M959.8 653.9L960.5 658.7M912.3 711.1L912.6 715.9M986.5 634.8L988.1 630.2M893.6 747.2L893.8 752.3M877.6 788.4L877.5 793.3" stroke="#00ff00" stroke-width="4.3" fill="none"/>
<circle cx="922.3" cy="660.8" r="15.5" fill="#ff00ff"/>
<circle cx="986.6" cy="630.7" r="15.5" fill="#ff00ff"/>
<path d="M889.5 744.2L888.6 739.2M934.1 677.9L934.7 683" stroke="#00ff00" stroke-width="4.3" fill="none"/>
<circle cx="828.1" cy="844.7" r="15.5" fill="#ff00ff"/>
<path d="M987.9 630.2L988.9 635.4M906.7 705.2L908 700M959.2 649.9L959.9 654.7M876.3 788.7L875.8 783.7" stroke="#00ff00" stroke-width="4.3" fill="none"/>
<path d="M966.7 630.6l32 -18v36z" fill="#000000"/>
<path d="M912.1 707L912.4 711.8M888.8 740L887.8 735M957.2 650.7L958.8 645.9M933.5 673.5L934.2 678.7M893.5 743L893.6 748M930.2 673.4L931.5 668.7M877.6 784.4L877.6 789.2M958.6 645.9L959.3 650.7M875.8 784.5L875.3 779.5M888 735.8L887 730.8M911.9 703L912.2 707.8" stroke="#00ff00" stroke-width="4.3" fill="none"/>
<path d="M937.4 646.3l32 -18v36z" fill="#000000"/>
<path d="M933 669.2L933.6 674.3" stroke="#00ff00" stroke-width="4.3" fill="none"/>
<path d="M865.8 731.2l32 -18v36z" fill="#0000ff"/>
<path d="M907.8 700.8L909.1 695.6M893.4 738.7L893.5 743.8M877.6 780.4L877.6 785.2M875.4 780.3L874.9 775.3M931.3 669.5L932.6 664.8M911.8 698.9L912 703.8M887 731.6L888.3 726.4M932.5 664.8L933.1 670M893.3 734.4L893.4 739.5M877.6 776.4L877.6 781.2" stroke="#00ff00" stroke-width="4.3" fill="none"/>
<path d="M911.2 665.2l32 -18v36z" fill="#000000"/>
<path d="M875 776.1L874.5 771.1M911.6 694.9L911.8 699.7M908.9 696.4L910.2 691.2M893.2 730.2L893.3 735.2M874.6 771.9L874.1 766.9M877.7 772.3L877.6 777.2" stroke="#00ff00" stroke-width="4.3" fill="none"/>
<path d="M844.4 822.8l32 -18v36z" fill="#ff0000"/>
<path d="M888.1 727.2L889.4 722M911.4 690.8L911.6 695.7M865.8 823.2L865.1 818.4M865.6 818.3L865.7 823.2M874.1 767.7L873.6 762.7M893 725.9L893.2 731M910 692L911.3 686.8M877.7 768.3L877.7 773.1M865.2 819.2L864.6 814.4M911.2 686.8L911.4 691.6M865.5 814.2L865.6 819.1M889.2 722.8L890.5 717.6M873.7 763.5L873.2 758.5" stroke="#00ff00" stroke-width="4.3" fill="none"/>
<path d="M889.9 687.2l32 -18v36z" fill="#000000"/>
<path d="M892.9 721.6L893.1 726.7M864.7 815.2L864.1 810.3M877.7 764.3L877.7 769.1M865.4 810L865.5 815M873.3 759.3L872.8 754.3M864.2 811.1L863.6 806.3" stroke="#00ff00" stroke-width="4.3" fill="none"/>
<circle cx="953.6" cy="638.3" r="15.5" fill="#ff00ff"/>
<path d="M892.8 717.3L893 722.4M877.7 760.3L877.7 765.1M890.3 718.4L891.6 713.2M872.9 755.1L872.4 750.1M865.3 805.9L865.4 810.8M863.7 807.1L863 802.3" stroke="#00ff00" stroke-width="4.3" fill="none"/>
<path d="M851.1 750.5l32 -18v36z" fill="#0000ff"/>
<path d="M892.7 713.1L892.8 718.1M877.7 756.3L877.7 761.1M863.1 803.1L862.5 798.3M865.2 801.8L865.3 806.7M872.3 750.9L873.6 745.7M891.4 714L892.7 708.8M892.6 708.8L892.7 713.9M877.8 752.2L877.7 757.1M862.6 799.1L862 794.3" stroke="#00ff00" stroke-width="4.3" fill="none"/>
<circle cx="816.5" cy="855.9" r="15.5" fill="#ff00ff"/>
<path d="M865.1 797.7L865.2 802.6" stroke="#00ff00" stroke-width="4.3" fill="none"/>
<path d="M871.3 709.2l32 -18v36z" fill="#000000"/>
<path d="M862.1 795L861.5 790.2M877.8 748.2L877.8 753M873.4 746.5L874.7 741.3M865 793.6L865.1 798.5M861.6 791L861 786.2M877.8 744.2L877.8 749M864.9 789.4L865 794.4M861.1 787L860.4 782.2M874.5 742.1L875.8 736.9" stroke="#00ff00" stroke-width="4.3" fill="none"/>
<path d="M829.5 834.5l32 -18v36z" fill="#ff0000"/>
<path d="M877.8 740.2L877.8 745M860.5 783L859.9 778.2M850.8 834.9L850.3 830M850.7 830L850.8 834.9M864.8 785.3L865 790.2M877.9 736.1L877.8 741M860 779L859.4 774.1M850.4 830.8L849.8 826M875.6 737.7L876.9 732.5M864.7 781.2L864.9 786.1M850.7 825.8L850.8 830.7M859.5 774.9L858.9 770.1M849.9 826.8L849.3 821.9M877.9 732.1L877.9 736.9M864.6 777.1L864.8 782M850.6 821.7L850.7 826.6M859 770.9L858.3 766.1M849.4 822.7L848.8 817.9M876.7 733.3L878 728.1" stroke="#00ff00" stroke-width="4.3" fill="none"/>
<path d="M837.1 766.5l32 -18v36z" fill="#0000ff"/>
<path d="M877.9 728.1L877.9 732.9M864.6 772.9L864.7 777.9M850.6 817.5L850.7 822.4M848.9 818.7L848.3 813.8" stroke="#00ff00" stroke-width="4.3" fill="none"/>
<path d="M856.6 728.5l32 -18v36z" fill="#000000"/>
<path d="M858.3 766.9L859.6 761.7M848.4 814.6L847.8 809.8M864.5 768.8L864.6 773.7M850.5 813.4L850.6 818.3M847.9 810.6L847.3 805.7M864.4 764.7L864.5 769.6M859.4 762.5L860.7 757.3M850.5 809.2L850.6 814.1M847.4 806.5L846.8 801.7M864.3 760.6L864.4 765.5M850.4 805.1L850.5 810M846.9 802.5L846.3 797.6M860.5 758.1L861.8 752.9M864.2 756.5L864.3 761.4M850.4 800.9L850.5 805.8M846.4 798.4L845.8 793.6M864.1 752.3L864.2 757.3M845.9 794.4L845.3 789.5M861.6 753.7L862.9 748.5M850.3 796.8L850.4 801.7" stroke="#00ff00" stroke-width="4.3" fill="none"/>
<path d="M815.2 841.9l32 -18v36z" fill="#ff0000"/>
<path d="M845.4 790.3L844.8 785.5M864 748.2L864.1 753.1" stroke="#00ff00" stroke-width="4.3" fill="none"/>
<circle cx="802.5" cy="852.7" r="15.5" fill="#ff00ff"/>
<path d="M836.6 842.3L835.9 837.3M850.3 792.6L850.4 797.5M836.4 837.3L836.5 842.3M844.9 786.3L844.4 781.4M862.7 749.3L864 744.1M863.9 744.1L864 749M836 838.1L835.3 833.2" stroke="#00ff00" stroke-width="4.3" fill="none"/>
<path d="M823.1 781.8l32 -18v36z" fill="#0000ff"/>
<path d="M850.2 788.5L850.3 793.4M836.3 833L836.4 838.1" stroke="#00ff00" stroke-width="4.3" fill="none"/>
<path d="M842.6 744.5l32 -18v36z" fill="#000000"/>
<path d="M835.4 834L834.7 829M844.3 782.2L845.6 777M850.2 784.3L850.3 789.2M836.3 828.8L836.4 833.8M834.9 829.8L834.2 824.9M850.1 780.2L850.2 785.1M836.2 824.6L836.3 829.6M834.3 825.7L833.6 820.7M845.4 777.8L846.7 772.6M833.7 821.5L833 816.6M850.1 776L850.2 780.9M836.1 820.4L836.2 825.4M846.5 773.4L847.8 768.2M833.2 817.3L832.5 812.4M850 771.9L850.1 776.8M836 816.1L836.1 821.2M832.6 813.2L831.9 808.2M850 767.7L850.1 772.6M836 811.9L836 816.9M847.6 769L848.9 763.8M832 809L831.3 804.1M849.9 763.6L850 768.5M831.5 804.9L830.8 799.9M835.9 807.7L836 812.7M848.7 764.6L850 759.4M830.9 800.7L830.2 795.8M849.9 759.4L850 764.3M835.8 803.4L835.9 808.5" stroke="#00ff00" stroke-width="4.3" fill="none"/>
<path d="M828.6 759.8l32 -18v36z" fill="#000000"/>
<path d="M830.3 796.6L829.6 791.6" stroke="#00ff00" stroke-width="4.3" fill="none"/>
<path d="M808.4 792l32 -18v36z" fill="#0000ff"/>
<path d="M835.7 799.2L835.8 804.2" stroke="#00ff00" stroke-width="4.3" fill="none"/>
<rect x="1812.5" y="920.2" width="21.5" height="21.5" fill="#0000ff"/>
<path d="M1822.7 926.6L1823.2 931.4" stroke="#00ffff" stroke-width="4.3" fill="none"/>
<rect x="1844" y="902.1" width="21.5" height="21.5" fill="#0000ff"/>
<path d="M829.6 792.4L830.9 787.2" stroke="#00ff00" stroke-width="4.3" fill="none"/>
<path d="M1823.1 931.4L1823.9 926.2M1853.7 908.3L1854.8 913.3" stroke="#00ffff" stroke-width="4.3" fill="none"/>
<path d="M835.7 795L835.7 800" stroke="#00ff00" stroke-width="4.3" fill="none"/>
<path d="M797.2 836.6l32 -18v36z" fill="#ff0000"/>
<path d="M1854.6 913.3L1855.5 908.1M1822.3 922.5L1822.8 927.4" stroke="#00ffff" stroke-width="4.3" fill="none"/>
<path d="M818.6 837L817.9 832" stroke="#00ff00" stroke-width="4.3" fill="none"/>
<path d="M1852.8 904.1L1853.9 909.1" stroke="#00ffff" stroke-width="4.3" fill="none"/>
<path d="M818.5 832L818.5 837" stroke="#00ff00" stroke-width="4.3" fill="none"/>
<rect x="1875" y="880.8" width="21.5" height="21.5" fill="#0000ff"/>
<path d="M1884.1 887L1885.9 891.9" stroke="#00ffff" stroke-width="4.3" fill="none"/>
<path d="M835.6 790.7L835.7 795.8" stroke="#00ff00" stroke-width="4.3" fill="none"/>
<path d="M1823.8 927L1824.6 921.9M1821.8 918.5L1822.4 923.3M1851.9 899.9L1853 904.9" stroke="#00ffff" stroke-width="4.3" fill="none"/>
<path d="M830.7 788L832 782.8" stroke="#00ff00" stroke-width="4.3" fill="none"/>
<path d="M1882.5 883L1884.4 887.8" stroke="#00ffff" stroke-width="4.3" fill="none"/>
<path d="M818 832.8L817.3 827.9" stroke="#00ff00" stroke-width="4.3" fill="none"/>
<path d="M1885.7 891.9L1887.1 886.3M1880.9 878.9L1882.8 883.7M1855.4 908.9L1856.3 903.7" stroke="#00ffff" stroke-width="4.3" fill="none"/>
<path d="M818.6 827.7L818.5 832.8" stroke="#00ff00" stroke-width="4.3" fill="none"/>
<path d="M1851 895.8L1852.1 900.7M1821.4 914.5L1821.9 919.3M1879.3 874.8L1881.2 879.6" stroke="#00ffff" stroke-width="4.3" fill="none"/>
<path d="M835.5 786.5L835.6 791.5M817.4 828.7L816.8 823.7" stroke="#00ff00" stroke-width="4.3" fill="none"/>
<circle cx="1822.2" cy="916.4" r="14.3" fill="#fff"/>
<path d="M1877.7 870.7L1879.6 875.5M1824.4 922.6L1825.2 917.5M1850.1 891.6L1851.2 896.5" stroke="#00ffff" stroke-width="4.3" fill="none"/>
<circle cx="784.5" cy="838.4" r="15.5" fill="#ff00ff"/>
<path d="M1876.1 866.6L1878 871.4M1820.9 910.4L1821.5 915.3" stroke="#00ffff" stroke-width="4.3" fill="none"/>
<path d="M831.8 783.6L833.1 778.4M818.6 823.5L818.6 828.5M816.9 824.5L816.2 819.6" stroke="#00ff00" stroke-width="4.3" fill="none"/>
<path d="M1856.1 904.5L1857 899.4" stroke="#00ffff" stroke-width="4.3" fill="none"/>
<path d="M835.4 782.3L835.5 787.3" stroke="#00ff00" stroke-width="4.3" fill="none"/>
<path d="M1874.6 862.5L1876.4 867.4M1849.2 887.4L1850.3 892.4M1886.9 887.1L1888.3 881.5" stroke="#00ffff" stroke-width="4.3" fill="none"/>
<rect x="1864" y="852.1" width="21.5" height="21.5" fill="#ff0000"/>
<circle cx="1822.2" cy="916.4" r="14.3" fill="none" stroke="#ff00ff" stroke-width="2"/>
<circle cx="1793.2" cy="931.4" r="14.3" fill="#fff"/>
<path d="M1820.5 906.4L1821 911.2" stroke="#00ffff" stroke-width="4.3" fill="none"/>
<path d="M816.3 820.4L815.7 815.4" stroke="#00ff00" stroke-width="4.3" fill="none"/>
<path d="M1825.1 918.3L1825.9 913.1M1879 865.4L1874.4 862.7" stroke="#00ffff" stroke-width="4.3" fill="none"/>
<path d="M818.6 819.2L818.6 824.3" stroke="#00ff00" stroke-width="4.3" fill="none"/>
<path d="M1848.3 883.2L1849.4 888.2" stroke="#00ffff" stroke-width="4.3" fill="none"/>
<path d="M835.3 778.1L835.4 783.1M832.9 779.2L834.2 774" stroke="#00ff00" stroke-width="4.3" fill="none"/>
<rect x="1783.2" y="918.8" width="21.5" height="21.5" fill="#0000ff"/>
<path d="M1820 902.3L1820.6 907.2" stroke="#00ffff" stroke-width="4.3" fill="none"/>
<rect x="1326.2" y="914" width="21.5" height="21.5" fill="#0000ff"/>
<path d="M1856.9 900.1L1857.8 895" stroke="#00ffff" stroke-width="4.3" fill="none"/>
<rect x="1295.2" y="930.8" width="21.5" height="21.5" fill="#0000ff"/>
<path d="M815.8 816.2L815.1 811.3" stroke="#00ff00" stroke-width="4.3" fill="none"/>
<path d="M1847.4 879L1848.5 884" stroke="#00ffff" stroke-width="4.3" fill="none"/>
<circle cx="1793.2" cy="931.4" r="14.3" fill="none" stroke="#ff00ff" stroke-width="2"/>
<path d="M1793.4 925.1L1794.1 929.9M1335.8 919.9L1337 925.1" stroke="#00ffff" stroke-width="4.3" fill="none"/>
<circle cx="1853.5" cy="889.9" r="14.3" fill="#fff"/>
<path d="M1883 867.8L1878.4 865M1305.4 936.8L1306.1 941.9" stroke="#00ffff" stroke-width="4.3" fill="none"/>
<rect x="1836.8" y="868.6" width="21.5" height="21.5" fill="#ff0000"/>
<path d="M818.7 815L818.6 820" stroke="#00ff00" stroke-width="4.3" fill="none"/>
<path d="M1794 929.9L1794.4 924.9M1888.2 882.2L1889.6 876.6M1336.8 925.1L1337.8 920.3" stroke="#00ffff" stroke-width="4.3" fill="none"/>
<path d="M835.3 773.8L835.4 778.9" stroke="#00ff00" stroke-width="4.3" fill="none"/>
<path d="M1825.7 913.9L1826.5 908.7M1305.9 941.9L1306.7 936.7" stroke="#00ffff" stroke-width="4.3" fill="none"/>
<rect x="1911" y="854.1" width="21.5" height="21.5" fill="#0000ff"/>
<path d="M1819.6 898.3L1820.1 903.1M1919.8 860.5L1922 865.3" stroke="#00ffff" stroke-width="4.3" fill="none"/>
<path d="M815.2 812.1L814.6 807.1" stroke="#00ff00" stroke-width="4.3" fill="none"/>
<path d="M1851.7 882L1847.2 879.2M1334.8 915.5L1336 920.7M1792.8 921.1L1793.5 925.9M1917.9 856.5L1920.1 861.3M1304.9 932.6L1305.5 937.6M1916.1 852.5L1918.3 857.3M1857.6 895.8L1858.5 890.6" stroke="#00ffff" stroke-width="4.3" fill="none"/>
<circle cx="1853.5" cy="889.9" r="14.3" fill="none" stroke="#ff00ff" stroke-width="2"/>
<path d="M834 774.8L835.3 769.6" stroke="#00ff00" stroke-width="4.3" fill="none"/>
<path d="M1921.7 865.3L1922.6 859.8M1887 870.1L1882.4 867.3M1914.2 848.5L1916.4 853.3" stroke="#00ffff" stroke-width="4.3" fill="none"/>
<path d="M818.7 810.7L818.7 815.8" stroke="#00ff00" stroke-width="4.3" fill="none"/>
<path d="M1819.1 894.3L1819.7 899.1M1794.3 925.7L1794.7 920.7M1333.9 911.1L1335 916.3" stroke="#00ffff" stroke-width="4.3" fill="none"/>
<path d="M835.2 769.6L835.3 774.6M814.7 807.9L814 803" stroke="#00ff00" stroke-width="4.3" fill="none"/>
<path d="M1912.4 844.5L1914.6 849.3M1792.2 917.2L1792.9 921.9M1337.6 921.1L1338.6 916.3M1855.6 884.4L1851.1 881.6M1910.5 840.5L1912.7 845.3M1826.4 909.5L1827.2 904.4M1306.6 937.5L1307.3 932.3M1304.3 928.3L1305 933.4" stroke="#00ffff" stroke-width="4.3" fill="none"/>
<rect x="1900" y="830.1" width="21.5" height="21.5" fill="#ff0000"/>
<path d="M813.9 770l32 -18v36z" fill="#000000"/>
<path d="M1889.4 877.4L1890.8 871.8M1332.9 906.7L1334 911.8M1818.7 890.2L1819.2 895.1M1914.3 843.6L1910.4 840.7M1891 872.4L1886.4 869.7" stroke="#00ffff" stroke-width="4.3" fill="none"/>
<path d="M814.1 803.8L813.4 798.8" stroke="#00ff00" stroke-width="4.3" fill="none"/>
<path d="M1791.6 913.2L1792.3 917.9" stroke="#00ffff" stroke-width="4.3" fill="none"/>
<path d="M818.8 806.5L818.7 811.5" stroke="#00ff00" stroke-width="4.3" fill="none"/>
<rect x="1264" y="936" width="21.5" height="21.5" fill="#0000ff"/>
<path d="M1858.4 891.4L1859.3 886.2M1794.6 921.5L1795 916.4M1922.4 860.6L1923.3 855" stroke="#00ffff" stroke-width="4.3" fill="none"/>
<path d="M792.2 799.2l32 -18v36z" fill="#0000ff"/>
<path d="M1303.8 924L1304.4 929.1M1859.5 886.8L1855 884" stroke="#00ffff" stroke-width="4.3" fill="none"/>
<rect x="1880" y="861.5" width="21.5" height="21.5" fill="#000000"/>
<path d="M1331.9 902.2L1333 907.4M1274.2 942.2L1274.7 947.2M1818.3 886.2L1818.8 891M1338.4 917.1L1339.4 912.4M1917.6 846L1913.7 843.1" stroke="#00ffff" stroke-width="4.3" fill="none"/>
<rect x="1359.8" y="887.9" width="21.5" height="21.5" fill="#0000ff"/>
<path d="M1791.1 909.2L1791.8 914M1274.6 947.2L1275.3 942.4M1827 905.1L1827.8 900M1307.2 933.1L1307.9 927.9M1368.5 894.4L1370.7 899" stroke="#00ffff" stroke-width="4.3" fill="none"/>
<rect x="1848.5" y="875.9" width="21.5" height="21.5" fill="#000000"/>
<path d="M1366.8 890.6L1368.9 895.2" stroke="#00ffff" stroke-width="4.3" fill="none"/>
<rect x="1807.5" y="875.9" width="21.5" height="21.5" fill="#ff0000"/>
<path d="M818.8 802.3L818.7 807.3M813.4 799.6L814.7 794.4" stroke="#00ff00" stroke-width="4.3" fill="none"/>
<path d="M1330.9 897.8L1332.1 903M1303.2 919.8L1303.9 924.8M1365 886.8L1367.1 891.4M1822 890L1818 886.3M1920.9 848.5L1917 845.6M1370.4 899L1371.2 893.5" stroke="#00ffff" stroke-width="4.3" fill="none"/>
<circle cx="1764.2" cy="931.7" r="14.3" fill="#fff"/>
<path d="M1794.9 917.2L1795.3 912.2M1363.2 883L1365.3 887.6M1273.8 938L1274.3 943M1790.5 905.2L1791.2 910" stroke="#00ffff" stroke-width="4.3" fill="none"/>
<circle cx="1304.9" cy="923.1" r="14.3" fill="#fff"/>
<circle cx="1275.4" cy="942.4" r="14.3" fill="#fff"/>
<path d="M1361.4 879.2L1363.5 883.8M1923.1 855.8L1924 850.3M1329.9 893.4L1331.1 898.6M1359.6 875.4L1361.7 880M1825.3 893.1L1821.4 889.5M1339.2 913.1L1340.2 908.4M1275.2 943.2L1275.8 938.4M1302.7 915.5L1303.3 920.6M1357.8 871.6L1360 876.2M1924.2 850.9L1920.3 848M1827.7 900.8L1828.5 895.6M1307.8 928.7L1308.6 923.4" stroke="#00ffff" stroke-width="4.3" fill="none"/>
<path d="M818.8 798L818.8 803.1" stroke="#00ff00" stroke-width="4.3" fill="none"/>
<rect x="1347.2" y="861.2" width="21.5" height="21.5" fill="#ff0000"/>
<rect x="1319.2" y="883" width="21.5" height="21.5" fill="#ff0000"/>
<path d="M1789.9 901.2L1790.6 906M1273.3 933.9L1273.9 938.8" stroke="#00ffff" stroke-width="4.3" fill="none"/>
<rect x="778" y="943" width="21.5" height="21.5" fill="#0000ff"/>
<rect x="1913.2" y="840" width="21.5" height="21.5" fill="#000000"/>
<circle cx="1764.2" cy="931.7" r="14.3" fill="none" stroke="#ff00ff" stroke-width="2"/>
<path d="M1828.7 896.3L1824.7 892.6" stroke="#00ffff" stroke-width="4.3" fill="none"/>
<circle cx="1304.9" cy="923.1" r="14.3" fill="none" stroke="#ff00ff" stroke-width="2"/>
<circle cx="1275.4" cy="942.4" r="14.3" fill="none" stroke="#ff00ff" stroke-width="2"/>
<path d="M1795.3 913L1795.6 908" stroke="#00ffff" stroke-width="4.3" fill="none"/>
<path d="M814.5 795.2L815.8 790" stroke="#00ff00" stroke-width="4.3" fill="none"/>
<path d="M1334.2 896.3L1329.7 893.6M1362.2 874.1L1357.6 871.8M788.3 949.3L788.8 954.1" stroke="#00ffff" stroke-width="4.3" fill="none"/>
<rect x="1817.7" y="885.2" width="21.5" height="21.5" fill="#000000"/>
<path d="M1302.1 911.2L1302.8 916.3M1371.1 894.2L1371.9 888.7" stroke="#00ffff" stroke-width="4.3" fill="none"/>
<path d="M774.9 828.1l32 -18v36z" fill="#ff0000"/>
<path d="M1789.3 897.2L1790 902M788.7 954.1L789.8 949.2M1272.9 929.7L1273.4 934.7M1275.7 939.2L1276.4 934.3" stroke="#00ffff" stroke-width="4.3" fill="none"/>
<path d="M796.3 828.5L794.9 823.4M818.9 793.8L818.8 798.8" stroke="#00ff00" stroke-width="4.3" fill="none"/>
<path d="M1340 909.2L1341 904.4" stroke="#00ffff" stroke-width="4.3" fill="none"/>
<circle cx="1888.8" cy="857.4" r="14.3" fill="#fff"/>
<path d="M796 823.7L796.2 828.5" stroke="#00ff00" stroke-width="4.3" fill="none"/>
<rect x="808.5" y="921" width="21.5" height="21.5" fill="#0000ff"/>
<path d="M1308.5 924.2L1309.2 919" stroke="#00ffff" stroke-width="4.3" fill="none"/>
<rect x="1951.5" y="830.8" width="21.5" height="21.5" fill="#0000ff"/>
<rect x="1751.8" y="909.5" width="21.5" height="21.5" fill="#0000ff"/>
<path d="M787.9 945.3L788.4 950.1M817.6 927.2L819.4 932.2M1960 837L1962.4 841.9M1301.6 907L1302.2 912M1338.1 898.7L1333.6 895.9M1788.8 893.3L1789.5 898M1795.6 908.8L1796 903.8" stroke="#00ffff" stroke-width="4.3" fill="none"/>
<path d="M795.1 824.2L793.7 819.1" stroke="#00ff00" stroke-width="4.3" fill="none"/>
<path d="M1366 876L1361.4 873.7M1958 832.9L1960.4 837.7" stroke="#00ffff" stroke-width="4.3" fill="none"/>
<rect x="749" y="957" width="21.5" height="21.5" fill="#0000ff"/>
<path d="M1761.6 915.7L1762.6 920.6M1272.4 925.5L1273 930.5M816.1 923.1L817.9 928M1956 828.8L1958.4 833.6M1762.5 920.6L1762.6 915.7M819.2 932.2L820.6 927.4M1962.2 841.9L1962.2 836.1" stroke="#00ffff" stroke-width="4.3" fill="none"/>
<path d="M815.6 790.8L816.9 785.6" stroke="#00ff00" stroke-width="4.3" fill="none"/>
<path d="M759 963.3L759.8 968.1M1954 824.7L1956.4 829.5" stroke="#00ffff" stroke-width="4.3" fill="none"/>
<path d="M818.9 789.5L818.9 794.6M795.7 819.7L796 824.5" stroke="#00ff00" stroke-width="4.3" fill="none"/>
<path d="M1371.8 889.5L1372.6 884" stroke="#00ffff" stroke-width="4.3" fill="none"/>
<path d="M793.9 819.9L792.5 814.8" stroke="#00ff00" stroke-width="4.3" fill="none"/>
<path d="M1276.2 935.1L1276.9 930.3" stroke="#00ffff" stroke-width="4.3" fill="none"/>
<circle cx="1888.8" cy="857.4" r="14.3" fill="none" stroke="#ff00ff" stroke-width="2"/>
<path d="M787.5 941.2L788 946.1M814.6 918.9L816.4 923.8M1788.2 889.3L1788.9 894M1952 820.6L1954.4 825.4M789.6 950L790.7 945.1M759.7 968.1L760.3 963.1M1301 902.7L1301.7 907.8M1340.8 905.2L1341.8 900.4M1760.8 911.7L1761.7 916.5M1950 816.4L1952.4 821.3M1342 901L1337.5 898.3" stroke="#00ffff" stroke-width="4.3" fill="none"/>
<rect x="1939.5" y="806" width="21.5" height="21.5" fill="#ff0000"/>
<path d="M1309.1 919.8L1309.8 914.6M1272 921.3L1272.5 926.3M1369.8 877.9L1365.2 875.6M813 914.7L814.9 919.6" stroke="#00ffff" stroke-width="4.3" fill="none"/>
<rect x="1290.3" y="892.4" width="21.5" height="21.5" fill="#ff0000"/>
<path d="M1795.9 904.6L1796.3 899.5" stroke="#00ffff" stroke-width="4.3" fill="none"/>
<path d="M792.7 815.6L791.4 810.5" stroke="#00ff00" stroke-width="4.3" fill="none"/>
<path d="M758.4 959.3L759.1 964.1" stroke="#00ffff" stroke-width="4.3" fill="none"/>
<circle cx="1337.4" cy="893.9" r="14.3" fill="#fff"/>
<path d="M795.5 815.7L795.8 820.5" stroke="#00ff00" stroke-width="4.3" fill="none"/>
<path d="M1954.5 820.3L1949.9 816.5M1762.6 916.5L1762.8 911.6M1787.6 885.3L1788.3 890.1" stroke="#00ffff" stroke-width="4.3" fill="none"/>
<rect x="1331" y="890" width="21.5" height="21.5" fill="#000000"/>
<path d="M787.1 937.2L787.6 942M1759.9 907.6L1760.9 912.4M811.5 910.5L813.3 915.4" stroke="#00ffff" stroke-width="4.3" fill="none"/>
<circle cx="1246.6" cy="947.8" r="14.3" fill="#fff"/>
<path d="M818.9 785.3L818.9 790.3" stroke="#00ff00" stroke-width="4.3" fill="none"/>
<path d="M1962.2 836.9L1962.2 831.1M1306.1 907.1L1300.8 902.8" stroke="#00ffff" stroke-width="4.3" fill="none"/>
<path d="M791.6 811.3L790.2 806.2" stroke="#00ff00" stroke-width="4.3" fill="none"/>
<path d="M820.3 928.2L821.7 923.4M1276.8 931.1L1277.4 926.3" stroke="#00ffff" stroke-width="4.3" fill="none"/>
<path d="M816.7 786.4L818 781.2" stroke="#00ff00" stroke-width="4.3" fill="none"/>
<path d="M810 906.3L811.8 911.2M1271.5 917.1L1272.1 922.1M757.8 955.3L758.5 960.1M760.2 963.9L760.8 958.9M1372.5 884.7L1373.3 879.2M790.5 945.9L791.6 941M1759.1 903.5L1760.1 908.4M1373.6 879.8L1369 877.5M1787 881.3L1787.7 886.1" stroke="#00ffff" stroke-width="4.3" fill="none"/>
<rect x="1396.7" y="859.2" width="21.5" height="21.5" fill="#0000ff"/>
<path d="M1958.5 823.5L1953.9 819.8M1405.2 865.6L1407.6 870.4" stroke="#00ffff" stroke-width="4.3" fill="none"/>
<path d="M795.3 811.7L795.6 816.5" stroke="#00ff00" stroke-width="4.3" fill="none"/>
<path d="M786.6 933.2L787.2 938M808.5 902.1L810.3 907.1" stroke="#00ffff" stroke-width="4.3" fill="none"/>
<path d="M790.4 807L789 801.9" stroke="#00ff00" stroke-width="4.3" fill="none"/>
<path d="M1796.2 900.3L1796.6 895.3M1309.7 915.4L1310.5 910.2" stroke="#00ffff" stroke-width="4.3" fill="none"/>
<circle cx="1337.4" cy="893.9" r="14.3" fill="none" stroke="#ff00ff" stroke-width="2"/>
<path d="M1403.2 861.5L1405.6 866.3M1762.7 912.4L1762.9 907.5" stroke="#00ffff" stroke-width="4.3" fill="none"/>
<rect x="797.9" y="891.8" width="21.5" height="21.5" fill="#ff0000"/>
<rect x="1776.3" y="871" width="21.5" height="21.5" fill="#ff0000"/>
<path d="M1310.7 910.9L1305.4 906.6" stroke="#00ffff" stroke-width="4.3" fill="none"/>
<circle cx="1246.6" cy="947.8" r="14.3" fill="none" stroke="#ff00ff" stroke-width="2"/>
<path d="M819 781L818.9 786.1" stroke="#00ff00" stroke-width="4.3" fill="none"/>
<path d="M1401.2 857.5L1403.5 862.3M757.2 951.3L757.9 956.1" stroke="#00ffff" stroke-width="4.3" fill="none"/>
<rect x="1362.5" y="868.9" width="21.5" height="21.5" fill="#000000"/>
<path d="M1271.1 912.9L1271.6 917.9M1790.6 885.2L1786.8 881.4M1399.2 853.4L1401.5 858.2M1758.3 899.4L1759.3 904.3M812 905.4L808.3 902.2M1962.2 831.9L1962.2 826.1M1407.3 870.4L1408.1 864.9" stroke="#00ffff" stroke-width="4.3" fill="none"/>
<path d="M789.2 802.7L787.8 797.6" stroke="#00ff00" stroke-width="4.3" fill="none"/>
<path d="M1397.1 849.4L1399.5 854.2" stroke="#00ffff" stroke-width="4.3" fill="none"/>
<rect x="1232.8" y="926" width="21.5" height="21.5" fill="#0000ff"/>
<path d="M1277.3 927.1L1278 922.3M1962.5 826.8L1957.9 823" stroke="#00ffff" stroke-width="4.3" fill="none"/>
<rect x="842.2" y="894.8" width="21.5" height="21.5" fill="#0000ff"/>
<rect x="1299.7" y="899.9" width="21.5" height="21.5" fill="#000000"/>
<path d="M786.2 929.2L786.7 934" stroke="#00ffff" stroke-width="4.3" fill="none"/>
<circle cx="757.7" cy="951.9" r="14.3" fill="#fff"/>
<path d="M851.2 901.4L853.2 905.9M1395.1 845.3L1397.5 850.1" stroke="#00ffff" stroke-width="4.3" fill="none"/>
<path d="M795.1 807.7L795.4 812.5" stroke="#00ff00" stroke-width="4.3" fill="none"/>
<path d="M766.6 798l32 -18v36z" fill="#0000ff"/>
<path d="M760.7 959.7L761.3 954.7M821.5 924.2L822.9 919.4" stroke="#00ffff" stroke-width="4.3" fill="none"/>
<rect x="1384.5" y="835" width="21.5" height="21.5" fill="#ff0000"/>
<path d="M1793.9 888.5L1790.1 884.7M1242.7 932.1L1243.7 937.1M756.6 947.3L757.3 952.1M815 908.1L811.4 904.9M849.5 897.6L851.5 902.1" stroke="#00ffff" stroke-width="4.3" fill="none"/>
<path d="M817.8 782L819.1 776.8" stroke="#00ff00" stroke-width="4.3" fill="none"/>
<path d="M791.5 941.8L792.5 936.9" stroke="#00ffff" stroke-width="4.3" fill="none"/>
<rect x="1951.5" y="815.8" width="21.5" height="21.5" fill="#000000"/>
<path d="M1757.4 895.3L1758.4 900.2M1796.5 896.1L1796.9 891.1M1762.8 908.3L1763 903.4M1243.6 937.1L1243.9 932.1M1270.6 908.8L1271.2 913.7M847.8 893.9L849.8 898.4M1399.1 848.5L1395 845.5" stroke="#00ffff" stroke-width="4.3" fill="none"/>
<path d="M819 776.8L819 781.8" stroke="#00ff00" stroke-width="4.3" fill="none"/>
<path d="M852.9 905.9L854.3 901M1797.2 891.8L1793.4 888M846.2 890.1L848.1 894.6M785.8 925.1L786.3 930" stroke="#00ffff" stroke-width="4.3" fill="none"/>
<path d="M787.8 798.4L789.1 793.2" stroke="#00ff00" stroke-width="4.3" fill="none"/>
<path d="M818.1 910.7L814.4 907.6M1241.9 927.9L1242.9 932.9" stroke="#00ffff" stroke-width="4.3" fill="none"/>
<rect x="1786.2" y="880.8" width="21.5" height="21.5" fill="#000000"/>
<path d="M794.9 803.7L795.1 808.5" stroke="#00ff00" stroke-width="4.3" fill="none"/>
<circle cx="761.5" cy="818.7" r="15.5" fill="#ff00ff"/>
<path d="M755.9 943.4L756.7 948.1M1756.6 891.3L1757.6 896.1M844.5 886.3L846.5 890.8" stroke="#00ffff" stroke-width="4.3" fill="none"/>
<path d="M797.7 777.2l32 -18v36z" fill="#000000"/>
<circle cx="757.7" cy="951.9" r="14.3" fill="none" stroke="#ff00ff" stroke-width="2"/>
<path d="M1277.8 923.1L1278.5 918.2M1408 865.7L1408.7 860.1" stroke="#00ffff" stroke-width="4.3" fill="none"/>
<circle cx="787.9" cy="928.7" r="14.3" fill="#fff"/>
<path d="M842.8 882.6L844.8 887.1M761.2 955.5L761.8 950.5M1402.6 851L1398.5 848M1270.2 904.6L1270.7 909.6M821.1 913.4L817.5 910.2M1763 904.2L1763.1 899.3M841.1 878.8L843.1 883.3M822.6 920.2L824 915.4M1243.8 932.9L1244.1 927.8M785.4 921.1L785.9 925.9M1241.1 923.7L1242.1 928.7" stroke="#00ffff" stroke-width="4.3" fill="none"/>
<rect x="830.5" y="868.5" width="21.5" height="21.5" fill="#ff0000"/>
<path d="M792.4 937.7L793.5 932.8M1755.8 887.2L1756.8 892.1" stroke="#00ffff" stroke-width="4.3" fill="none"/>
<rect x="1994.7" y="813.2" width="21.5" height="21.5" fill="#0000ff"/>
<path d="M755.3 939.4L756.1 944.1M2003.5 819.9L2005.6 824.4" stroke="#00ffff" stroke-width="4.3" fill="none"/>
<path d="M794.7 799.6L794.9 804.5" stroke="#00ff00" stroke-width="4.3" fill="none"/>
<circle cx="1732.8" cy="917.7" r="14.3" fill="#fff"/>
<path d="M824.2 916.1L820.5 912.9M2001.8 816.2L2003.8 820.6M1406.1 853.5L1402 850.5M854 901.7L855.4 896.8M845.7 881.8L841 879M1269.8 900.4L1270.3 905.4M2005.4 824.4L2005.4 819.5M2000 812.4L2002.1 816.9" stroke="#00ffff" stroke-width="4.3" fill="none"/>
<rect x="813.1" y="905" width="21.5" height="21.5" fill="#000000"/>
<path d="M1278.4 919L1279 914.2" stroke="#00ffff" stroke-width="4.3" fill="none"/>
<rect x="715.2" y="947.6" width="21.5" height="21.5" fill="#0000ff"/>
<path d="M1240.3 919.5L1241.3 924.5" stroke="#00ffff" stroke-width="4.3" fill="none"/>
<circle cx="787.9" cy="928.7" r="14.3" fill="none" stroke="#ff00ff" stroke-width="2"/>
<path d="M1754.9 883.1L1755.9 888" stroke="#00ffff" stroke-width="4.3" fill="none"/>
<path d="M788.9 794L790.2 788.8" stroke="#00ff00" stroke-width="4.3" fill="none"/>
<path d="M785 917.1L785.5 921.9M754.7 935.4L755.4 940.2M1998.3 808.7L2000.4 813.1M1763.1 900.1L1763.2 895.2M761.7 951.3L762.3 946.2" stroke="#00ffff" stroke-width="4.3" fill="none"/>
<circle cx="728.9" cy="962.1" r="14.3" fill="#fff"/>
<path d="M1408.6 860.9L1409.4 855.4" stroke="#00ffff" stroke-width="4.3" fill="none"/>
<rect x="1259" y="890" width="21.5" height="21.5" fill="#ff0000"/>
<path d="M725.3 954L726.1 958.8M1996.6 804.9L1998.7 809.4M1244.1 928.6L1244.4 923.6" stroke="#00ffff" stroke-width="4.3" fill="none"/>
<path d="M794.5 795.6L794.7 800.4" stroke="#00ff00" stroke-width="4.3" fill="none"/>
<rect x="774.2" y="906.8" width="21.5" height="21.5" fill="#ff0000"/>
<path d="M1273.3 904.4L1269.5 900.5M1409.6 856L1405.5 853M725.9 958.8L726.6 954M1994.9 801.2L1996.9 805.6M1754.1 879L1755.1 883.9M1239.5 915.3L1240.4 920.3M793.3 933.6L794.4 928.7" stroke="#00ffff" stroke-width="4.3" fill="none"/>
<circle cx="1732.8" cy="917.7" r="14.3" fill="none" stroke="#ff00ff" stroke-width="2"/>
<rect x="1714.5" y="890" width="21.5" height="21.5" fill="#0000ff"/>
<path d="M1993.1 797.4L1995.2 801.9M754.1 931.4L754.8 936.2M2005.4 820.3L2005.4 815.4M849.8 884.3L845 881.4M788.7 920.2L784.7 917.3" stroke="#00ffff" stroke-width="4.3" fill="none"/>
<rect x="1982.5" y="787" width="21.5" height="21.5" fill="#ff0000"/>
<rect x="1398.5" y="845" width="21.5" height="21.5" fill="#000000"/>
<path d="M1276.5 907.6L1272.8 903.8M1724.2 896.4L1725.3 901.2M724.7 950L725.5 954.8M1278.9 915L1279.6 910.2M1763.2 896L1763.4 891.1M1725.2 901.2L1725.2 896.3M855.2 897.6L856.6 892.7" stroke="#00ffff" stroke-width="4.3" fill="none"/>
<path d="M747.3 819.6l32 -18v36z" fill="#ff0000"/>
<circle cx="728.9" cy="962.1" r="14.3" fill="none" stroke="#ff00ff" stroke-width="2"/>
<path d="M794.2 791.6L794.5 796.4" stroke="#00ff00" stroke-width="4.3" fill="none"/>
<path d="M1997.6 801.3L1993 797.5M1753.3 875L1754.3 879.8M1238.7 911.2L1239.6 916.1M762.2 947L762.8 942" stroke="#00ffff" stroke-width="4.3" fill="none"/>
<path d="M768.7 820L766.9 815.2" stroke="#00ff00" stroke-width="4.3" fill="none"/>
<circle cx="1929.2" cy="825.8" r="14.3" fill="#fff"/>
<path d="M1279.8 910.9L1276 907" stroke="#00ffff" stroke-width="4.3" fill="none"/>
<path d="M790 789.6L791.3 784.4" stroke="#00ff00" stroke-width="4.3" fill="none"/>
<path d="M1244.3 924.4L1244.6 919.4M753.5 927.4L754.2 932.2M792.1 922.7L788.1 919.8M1723.3 892.3L1724.4 897.1" stroke="#00ffff" stroke-width="4.3" fill="none"/>
<path d="M768.2 815L768.6 820" stroke="#00ff00" stroke-width="4.3" fill="none"/>
<rect x="1436" y="835.6" width="21.5" height="21.5" fill="#0000ff"/>
<path d="M726.5 954.8L727.1 950.1" stroke="#00ffff" stroke-width="4.3" fill="none"/>
<rect x="1268.8" y="899.9" width="21.5" height="21.5" fill="#000000"/>
<path d="M767.1 816L765.3 811.2" stroke="#00ff00" stroke-width="4.3" fill="none"/>
<path d="M724.1 946L724.9 950.8M1444.9 842.1L1447 846.8M2005.4 816.1L2005.4 811.2M853.9 886.7L849.1 883.8M1752.5 870.9L1753.4 875.7M794.2 929.5L795.3 924.6M1237.9 907L1238.8 911.9" stroke="#00ffff" stroke-width="4.3" fill="none"/>
<path d="M765.5 812L763.7 807.2" stroke="#00ff00" stroke-width="4.3" fill="none"/>
<path d="M1443.2 838.3L1445.2 842.9M2001.7 804.5L1997 800.8" stroke="#00ffff" stroke-width="4.3" fill="none"/>
<path d="M794 787.6L794.3 792.4" stroke="#00ff00" stroke-width="4.3" fill="none"/>
<path d="M1725.2 897.1L1725.2 892.2M1763.3 891.9L1763.5 887" stroke="#00ffff" stroke-width="4.3" fill="none"/>
<circle cx="1374.4" cy="860.9" r="14.3" fill="#fff"/>
<path d="M1722.3 888.2L1723.4 893.1M752.9 923.4L753.6 928.2M1446.8 846.8L1446.8 841M1441.5 834.4L1443.5 839M795.5 925.2L791.5 922.3" stroke="#00ffff" stroke-width="4.3" fill="none"/>
<path d="M763.9 808L762.1 803.2" stroke="#00ff00" stroke-width="4.3" fill="none"/>
<path d="M723.5 942L724.3 946.8" stroke="#00ffff" stroke-width="4.3" fill="none"/>
<circle cx="1929.2" cy="825.8" r="14.3" fill="none" stroke="#ff00ff" stroke-width="2"/>
<path d="M767.8 810.8L768.3 815.8" stroke="#00ff00" stroke-width="4.3" fill="none"/>
<path d="M1439.8 830.5L1441.8 835.1M1751.6 866.8L1752.6 871.7M1244.6 920.2L1244.9 915.1M762.7 942.8L763.3 937.8M856.3 893.4L857.7 888.5" stroke="#00ffff" stroke-width="4.3" fill="none"/>
<rect x="784.5" y="914.2" width="21.5" height="21.5" fill="#000000"/>
<circle cx="1216.3" cy="938.3" r="14.3" fill="#fff"/>
<path d="M762.3 804L760.5 799.2" stroke="#00ff00" stroke-width="4.3" fill="none"/>
<path d="M1237.1 902.8L1238 907.8M2005.4 812L2005.4 807.1M1721.4 884.2L1722.5 889M1438.1 826.6L1440.1 831.2M727 950.9L727.7 946.1M857.9 889.1L853.2 886.3M2005.7 807.8L2001.1 804" stroke="#00ffff" stroke-width="4.3" fill="none"/>
<rect x="1741" y="856.5" width="21.5" height="21.5" fill="#ff0000"/>
<path d="M752.2 919.4L753 924.2" stroke="#00ffff" stroke-width="4.3" fill="none"/>
<path d="M791.1 785.2L792.4 780M793.8 783.6L794.1 788.4" stroke="#00ff00" stroke-width="4.3" fill="none"/>
<path d="M707.6 793.2l32 -18v36z" fill="#0000ff"/>
<path d="M760.7 800L758.9 795.2" stroke="#00ff00" stroke-width="4.3" fill="none"/>
<path d="M1436.4 822.7L1438.4 827.3M1725.2 893L1725.2 888.2M1755 870.5L1751.4 866.9" stroke="#00ffff" stroke-width="4.3" fill="none"/>
<rect x="880.5" y="866.5" width="21.5" height="21.5" fill="#0000ff"/>
<path d="M722.9 938L723.7 942.8" stroke="#00ffff" stroke-width="4.3" fill="none"/>
<path d="M737.7 795.6l32 -18v36z" fill="#0000ff"/>
<path d="M1763.4 887.8L1763.6 882.9" stroke="#00ffff" stroke-width="4.3" fill="none"/>
<circle cx="1374.4" cy="860.9" r="14.3" fill="none" stroke="#ff00ff" stroke-width="2"/>
<rect x="1994.7" y="796.8" width="21.5" height="21.5" fill="#000000"/>
<rect x="741.5" y="909" width="21.5" height="21.5" fill="#ff0000"/>
<path d="M889.4 872.7L891.4 877.6M1434.6 818.8L1436.7 823.5" stroke="#00ffff" stroke-width="4.3" fill="none"/>
<path d="M767.4 806.7L767.9 811.6" stroke="#00ff00" stroke-width="4.3" fill="none"/>
<rect x="846.9" y="878.1" width="21.5" height="21.5" fill="#000000"/>
<path d="M1236.2 898.6L1237.2 903.6M1720.5 880.1L1721.6 885M1446.8 841.8L1446.8 836" stroke="#00ffff" stroke-width="4.3" fill="none"/>
<rect x="1424" y="808.5" width="21.5" height="21.5" fill="#ff0000"/>
<circle cx="821.8" cy="897.5" r="14.3" fill="#fff"/>
<path d="M1758 873.5L1754.4 869.9M887.7 868.6L889.7 873.5M756.6 923.4L752 919.5M1438.1 822.5L1434.5 818.9M1244.9 915.9L1245.2 910.9" stroke="#00ffff" stroke-width="4.3" fill="none"/>
<circle cx="1216.3" cy="938.3" r="14.3" fill="none" stroke="#ff00ff" stroke-width="2"/>
<path d="M763.2 938.6L763.8 933.6" stroke="#00ffff" stroke-width="4.3" fill="none"/>
<path d="M793.6 779.6L793.9 784.4" stroke="#00ff00" stroke-width="4.3" fill="none"/>
<path d="M891.1 877.6L892.1 871.9M722.3 934.1L723.1 938.8" stroke="#00ffff" stroke-width="4.3" fill="none"/>
<path d="M758.9 796L760.2 790.8" stroke="#00ff00" stroke-width="4.3" fill="none"/>
<path d="M886 864.5L888 869.3M727.5 946.9L728.2 942.1M1719.6 876.1L1720.7 880.9M1761 876.5L1757.4 872.9M1235.4 894.4L1236.4 899.4M1725.2 889L1725.2 884.1M1441.1 825.6L1437.5 822" stroke="#00ffff" stroke-width="4.3" fill="none"/>
<path d="M767.1 802.5L767.5 807.5" stroke="#00ff00" stroke-width="4.3" fill="none"/>
<rect x="1196.8" y="906.9" width="21.5" height="21.5" fill="#0000ff"/>
<path d="M1763.6 883.7L1763.7 878.8" stroke="#00ffff" stroke-width="4.3" fill="none"/>
<rect x="2042.8" y="804" width="21.5" height="21.5" fill="#0000ff"/>
<path d="M884.4 860.4L886.4 865.2M2051.7 810.7L2053.8 815.1" stroke="#00ffff" stroke-width="4.3" fill="none"/>
<path d="M792.2 780.8L793.5 775.6" stroke="#00ff00" stroke-width="4.3" fill="none"/>
<path d="M760.6 926.7L756 922.9M1764 879.5L1760.4 875.9" stroke="#00ffff" stroke-width="4.3" fill="none"/>
<circle cx="821.8" cy="897.5" r="14.3" fill="none" stroke="#ff00ff" stroke-width="2"/>
<path d="M1206.6 913.3L1207.7 918M2050 807.1L2052.1 811.4M1444.1 828.6L1440.5 825M1718.6 872L1719.8 876.9M721.7 930.1L722.5 934.8M882.7 856.2L884.7 861.1M1446.8 836.8L1446.8 831" stroke="#00ffff" stroke-width="4.3" fill="none"/>
<rect x="2138.2" y="823" width="21.5" height="21.5" fill="#0000ff"/>
<path d="M2053.7 815.1L2052.9 809.5" stroke="#00ffff" stroke-width="4.3" fill="none"/>
<path d="M793.4 775.6L793.6 780.4" stroke="#00ff00" stroke-width="4.3" fill="none"/>
<rect x="1753" y="868.5" width="21.5" height="21.5" fill="#000000"/>
<path d="M1207.6 918L1207.9 913.1M1234.6 890.2L1235.6 895.2M2048.3 803.5L2050.4 807.8M1245.1 911.7L1245.4 906.7M881 852.1L883 857M2046.6 799.8L2048.7 804.2M2147.7 829.4L2149 834.1M763.7 934.4L764.3 929.4M1447.1 831.7L1443.5 828.1M1725.2 884.9L1725.2 880" stroke="#00ffff" stroke-width="4.3" fill="none"/>
<path d="M766.7 798.3L767.1 803.3" stroke="#00ff00" stroke-width="4.3" fill="none"/>
<path d="M1205.8 909.3L1206.8 914.1" stroke="#00ffff" stroke-width="4.3" fill="none"/>
<rect x="870.5" y="841.8" width="21.5" height="21.5" fill="#ff0000"/>
<path d="M728.1 942.9L728.7 938.2M2044.9 796.2L2047 800.6" stroke="#00ffff" stroke-width="4.3" fill="none"/>
<path d="M772.1 776l32 -18v36z" fill="#000000"/>
<path d="M764.6 930.1L760 926.2M1717.7 868L1718.8 872.8" stroke="#00ffff" stroke-width="4.3" fill="none"/>
<rect x="1436" y="820.6" width="21.5" height="21.5" fill="#000000"/>
<path d="M2148.9 834.1L2149 828.9M721.1 926.1L721.9 930.9M2043.2 792.6L2045.3 796.9M891.9 872.7L892.9 867" stroke="#00ffff" stroke-width="4.3" fill="none"/>
<path d="M760 791.6L761.3 786.4" stroke="#00ff00" stroke-width="4.3" fill="none"/>
<path d="M1233.8 886L1234.8 891M2146.7 825.4L2147.9 830.1M885.6 856.1L880.9 852.2M2041.5 789L2043.6 793.3" stroke="#00ffff" stroke-width="4.3" fill="none"/>
<rect x="753.5" y="919" width="21.5" height="21.5" fill="#000000"/>
<path d="M2053 810.3L2052.3 804.7M1204.9 905.4L1206 910.1M2039.8 785.3L2041.9 789.7" stroke="#00ffff" stroke-width="4.3" fill="none"/>
<rect x="1223.2" y="875.6" width="21.5" height="21.5" fill="#ff0000"/>
<path d="M1207.8 913.9L1208.1 909.1M1716.8 863.9L1717.9 868.8" stroke="#00ffff" stroke-width="4.3" fill="none"/>
<rect x="2029.2" y="775" width="21.5" height="21.5" fill="#ff0000"/>
<path d="M676 797l32 -18v36z" fill="#0000ff"/>
<circle cx="699.4" cy="957.5" r="14.3" fill="#fff"/>
<path d="M1245.4 907.5L1245.7 902.4" stroke="#00ffff" stroke-width="4.3" fill="none"/>
<path d="M766.3 794.1L766.8 799.1" stroke="#00ff00" stroke-width="4.3" fill="none"/>
<path d="M1237.2 889.7L1233.6 886.1M2145.6 821.5L2146.9 826.2M1725.2 880.8L1725.2 875.9M720.5 922.1L721.3 926.9M2044 789.2L2039.7 785.4M728.6 939L729.3 934.2M1204.1 901.5L1205.1 906.2M2149 829.7L2149 824.4M889.8 859.4L885 855.6M1715.9 859.9L1717 864.7M1240.2 892.8L1236.6 889.2M2052.4 805.4L2051.7 799.8M2144.5 817.6L2145.8 822.3" stroke="#00ffff" stroke-width="4.3" fill="none"/>
<rect x="1673.8" y="866.2" width="21.5" height="21.5" fill="#0000ff"/>
<rect x="2093.1" y="808.5" width="21.5" height="21.5" fill="#0000ff"/>
<path d="M766 789.9L766.4 794.9" stroke="#00ff00" stroke-width="4.3" fill="none"/>
<path d="M719.9 918.1L720.7 922.9M2101.8 814.8L2104 819.6M892.7 867.8L893.7 862.1M1208.1 909.9L1208.3 905M2047.7 792.4L2043.4 788.7M1683.4 872.5L1684.7 877.4" stroke="#00ffff" stroke-width="4.3" fill="none"/>
<path d="M761.1 787.2L762.4 782" stroke="#00ff00" stroke-width="4.3" fill="none"/>
<path d="M1243.2 895.8L1239.6 892.2M1203.2 897.5L1204.2 902.2" stroke="#00ffff" stroke-width="4.3" fill="none"/>
<rect x="681.6" y="931" width="21.5" height="21.5" fill="#0000ff"/>
<circle cx="699.4" cy="957.5" r="14.3" fill="none" stroke="#ff00ff" stroke-width="2"/>
<path d="M1725.2 876.7L1725.2 871.8M2099.9 810.8L2102.1 815.6M1245.6 903.2L1245.9 898.2M1715 855.8L1716.1 860.7M2103.9 819.6L2102.9 814.5M1684.6 877.4L1684.3 872.5M2143.5 813.6L2144.7 818.3M893.9 862.8L889.2 858.9M2098 806.8L2100.2 811.6M691.5 937.2L692.5 942.2M1246.2 898.9L1242.6 895.3M2149 825.2L2149.1 820M1682.2 868.4L1683.6 873.3M2051.8 800.6L2051 795M729.1 935L729.8 930.2M2096.2 802.8L2098.4 807.6M719.3 914.1L720.1 918.9M692.4 942.2L692.7 937.1M1202.3 893.6L1203.4 898.3M2051.4 795.7L2047.1 791.9" stroke="#00ffff" stroke-width="4.3" fill="none"/>
<rect x="1235.2" y="887.9" width="21.5" height="21.5" fill="#000000"/>
<path d="M2142.4 809.7L2143.7 814.4" stroke="#00ffff" stroke-width="4.3" fill="none"/>
<rect x="882.9" y="851.8" width="21.5" height="21.5" fill="#000000"/>
<path d="M765.6 785.7L766 790.7" stroke="#00ff00" stroke-width="4.3" fill="none"/>
<path d="M1714 851.8L1715.1 856.6M2094.3 798.8L2096.5 803.6" stroke="#00ffff" stroke-width="4.3" fill="none"/>
<rect x="1482" y="818" width="21.5" height="21.5" fill="#0000ff"/>
<path d="M2103.1 815.2L2102.1 810.1M1490.8 824.7L1493 829.1" stroke="#00ffff" stroke-width="4.3" fill="none"/>
<rect x="2040.3" y="784.6" width="21.5" height="21.5" fill="#000000"/>
<path d="M2092.4 794.8L2094.6 799.6M1684.4 873.3L1684 868.4M1208.3 905.8L1208.6 901" stroke="#00ffff" stroke-width="4.3" fill="none"/>
<circle cx="1697.4" cy="892.5" r="14.3" fill="#fff"/>
<path d="M1681.1 864.4L1682.4 869.2M690.7 933L691.7 938M1489 821L1491.2 825.4M1725.2 872.6L1725.2 867.8" stroke="#00ffff" stroke-width="4.3" fill="none"/>
<path d="M719.2 812.7l32 -18v36z" fill="#ff0000"/>
<path d="M740.7 813L738 808.4M738.4 809.1L735.7 804.5" stroke="#00ff00" stroke-width="4.3" fill="none"/>
<path d="M1492.9 829.1L1492.1 824.1" stroke="#00ffff" stroke-width="4.3" fill="none"/>
<path d="M736.1 805.2L733.3 800.6" stroke="#00ff00" stroke-width="4.3" fill="none"/>
<path d="M2141.4 805.8L2142.6 810.5M1201.5 889.7L1202.5 894.4" stroke="#00ffff" stroke-width="4.3" fill="none"/>
<path d="M733.7 801.3L731 796.7" stroke="#00ff00" stroke-width="4.3" fill="none"/>
<path d="M1487.2 817.4L1489.4 821.8M2090.6 790.8L2092.8 795.6" stroke="#00ffff" stroke-width="4.3" fill="none"/>
<path d="M646.5 806.9l32 -18v36z" fill="#0000ff"/>
<path d="M731.4 797.4L728.7 792.8" stroke="#00ff00" stroke-width="4.3" fill="none"/>
<path d="M718.7 910.1L719.5 914.9M1713.1 847.7L1714.2 852.5" stroke="#00ffff" stroke-width="4.3" fill="none"/>
<circle cx="733.6" cy="800.4" r="15.5" fill="#ff00ff"/>
<path d="M1485.4 813.7L1487.5 818.1M2088.7 786.8L2090.9 791.6" stroke="#00ffff" stroke-width="4.3" fill="none"/>
<path d="M762.2 782.8L763.5 777.6M739.8 808L740.6 813.1" stroke="#00ff00" stroke-width="4.3" fill="none"/>
<path d="M1483.6 810.1L1485.7 814.5" stroke="#00ffff" stroke-width="4.3" fill="none"/>
<path d="M765.2 781.6L765.7 786.5" stroke="#00ff00" stroke-width="4.3" fill="none"/>
<path d="M2102.2 810.9L2101.3 805.8M1680 860.3L1681.3 865.1M2149.1 820.8L2149.1 815.5" stroke="#00ffff" stroke-width="4.3" fill="none"/>
<rect x="1702.5" y="837.4" width="21.5" height="21.5" fill="#ff0000"/>
<rect x="708" y="899.8" width="21.5" height="21.5" fill="#ff0000"/>
<path d="M2086.8 782.8L2089 787.6M1481.7 806.4L1483.9 810.8M729.7 931L730.3 926.3M692.6 937.9L693 932.8M2140.3 801.8L2141.6 806.5M689.9 928.8L690.9 933.8" stroke="#00ffff" stroke-width="4.3" fill="none"/>
<rect x="2076.2" y="772.5" width="21.5" height="21.5" fill="#ff0000"/>
<path d="M1200.6 885.7L1201.6 890.4" stroke="#00ffff" stroke-width="4.3" fill="none"/>
<circle cx="1974.4" cy="801.6" r="14.3" fill="#fff"/>
<path d="M1479.9 802.8L1482.1 807.2M722.1 913.8L718.5 910.2M1716.5 851.4L1712.9 847.8M1684.1 869.2L1683.8 864.3M1492.2 824.9L1491.4 819.9" stroke="#00ffff" stroke-width="4.3" fill="none"/>
<path d="M728.8 793.5L730.1 788.9" stroke="#00ff00" stroke-width="4.3" fill="none"/>
<path d="M1478.1 799.1L1480.3 803.5M1725.2 868.6L1725.2 863.7" stroke="#00ffff" stroke-width="4.3" fill="none"/>
<circle cx="1697.4" cy="892.5" r="14.3" fill="none" stroke="#ff00ff" stroke-width="2"/>
<path d="M1208.5 901.8L1208.8 896.9" stroke="#00ffff" stroke-width="4.3" fill="none"/>
<rect x="1467.5" y="788.8" width="21.5" height="21.5" fill="#ff0000"/>
<path d="M1678.8 856.2L1680.2 861M2091.3 786.8L2086.7 782.9M2139.2 797.9L2140.5 802.6M2101.4 806.5L2100.5 801.4" stroke="#00ffff" stroke-width="4.3" fill="none"/>
<path d="M739.1 803.6L739.9 808.8" stroke="#00ff00" stroke-width="4.3" fill="none"/>
<path d="M1481.5 802.9L1478 799.2M725.1 916.9L721.5 913.3M1719.5 854.3L1715.9 850.8M1199.7 881.8L1200.8 886.5" stroke="#00ffff" stroke-width="4.3" fill="none"/>
<path d="M764.8 777.4L765.3 782.4" stroke="#00ff00" stroke-width="4.3" fill="none"/>
<path d="M689.1 924.5L690.1 929.5" stroke="#00ffff" stroke-width="4.3" fill="none"/>
<rect x="923.8" y="843.1" width="21.5" height="21.5" fill="#0000ff"/>
<path d="M1677.7 852.1L1679.1 857M1491.5 820.7L1490.7 815.7M2149.1 816.3L2149.2 811.1" stroke="#00ffff" stroke-width="4.3" fill="none"/>
<circle cx="1416.4" cy="831.1" r="14.3" fill="#fff"/>
<path d="M1484.5 806L1481 802.3M932.9 849.8L934.6 854.3M1683.8 865.1L1683.5 860.2M2138.2 794L2139.4 798.7M728.1 919.9L724.5 916.3M1722.5 857.3L1718.9 853.8" stroke="#00ffff" stroke-width="4.3" fill="none"/>
<circle cx="1974.4" cy="801.6" r="14.3" fill="none" stroke="#ff00ff" stroke-width="2"/>
<path d="M692.9 933.6L693.2 928.5M730.2 927.1L730.9 922.3M2095.2 790.1L2090.7 786.2" stroke="#00ffff" stroke-width="4.3" fill="none"/>
<path d="M763.3 778.4L764.6 773.2" stroke="#00ff00" stroke-width="4.3" fill="none"/>
<path d="M2100.6 802.2L2099.6 797.1M1198.9 877.9L1199.9 882.6M1725.2 864.5L1725.2 859.6M931.4 846L933.1 850.5" stroke="#00ffff" stroke-width="4.3" fill="none"/>
<path d="M738.4 799.3L739.2 804.4" stroke="#00ff00" stroke-width="4.3" fill="none"/>
<path d="M934.5 854.3L934.5 849.2M688.3 920.3L689.3 925.3M1487.4 809.1L1483.9 805.4M1208.8 897.7L1209.1 892.8M1676.6 848L1677.9 852.9M731.1 923L727.5 919.4" stroke="#00ffff" stroke-width="4.3" fill="none"/>
<path d="M764.5 773.2L764.9 778.2" stroke="#00ff00" stroke-width="4.3" fill="none"/>
<path d="M1725.5 860.3L1721.9 856.7M2137.1 790L2138.4 794.7" stroke="#00ffff" stroke-width="4.3" fill="none"/>
<path d="M729.9 789.6L731.2 784.9" stroke="#00ff00" stroke-width="4.3" fill="none"/>
<circle cx="860.5" cy="864.8" r="14.3" fill="#fff"/>
<path d="M929.9 842.3L931.6 846.8M1490.8 816.5L1490 811.5" stroke="#00ffff" stroke-width="4.3" fill="none"/>
<rect x="720" y="912" width="21.5" height="21.5" fill="#000000"/>
<rect x="1714.5" y="849.2" width="21.5" height="21.5" fill="#000000"/>
<rect x="2126.4" y="779.6" width="21.5" height="21.5" fill="#ff0000"/>
<path d="M1490.4 812.2L1486.9 808.5M1198 873.9L1199 878.6M1683.5 861L1683.2 856.2M928.4 838.5L930.1 843" stroke="#00ffff" stroke-width="4.3" fill="none"/>
<path d="M743.2 773.6l32 -18v36z" fill="#000000"/>
<path d="M2099.2 793.4L2094.6 789.5M1675.4 843.9L1676.8 848.8" stroke="#00ffff" stroke-width="4.3" fill="none"/>
<circle cx="1416.4" cy="831.1" r="14.3" fill="none" stroke="#ff00ff" stroke-width="2"/>
<path d="M2099.8 797.8L2098.8 792.7M2149.2 811.9L2149.2 806.6" stroke="#00ffff" stroke-width="4.3" fill="none"/>
<circle cx="583.3" cy="882.7" r="15.5" fill="#ff00ff"/>
<rect x="1479.3" y="801.1" width="21.5" height="21.5" fill="#000000"/>
<path d="M2140.5 793.7L2136.9 790.1M687.5 916.1L688.5 921.1" stroke="#00ffff" stroke-width="4.3" fill="none"/>
<path d="M737.7 794.9L738.5 800.1" stroke="#00ff00" stroke-width="4.3" fill="none"/>
<circle cx="1182.4" cy="916.3" r="14.3" fill="#fff"/>
<path d="M926.9 834.8L928.6 839.3M693.2 929.3L693.5 924.2" stroke="#00ffff" stroke-width="4.3" fill="none"/>
<rect x="2088.2" y="782.4" width="21.5" height="21.5" fill="#000000"/>
<rect x="1627.8" y="840" width="21.5" height="21.5" fill="#0000ff"/>
<path d="M934.5 850L934.5 844.9" stroke="#00ffff" stroke-width="4.3" fill="none"/>
<path d="M699.9 801.1L697.1 796.7M702.3 804.7L699.5 800.4" stroke="#00ff00" stroke-width="4.3" fill="none"/>
<path d="M1197.1 870L1198.2 874.7M1209 893.6L1209.3 888.8M2143.5 796.8L2139.9 793.2M1674.3 839.9L1675.7 844.7" stroke="#00ffff" stroke-width="4.3" fill="none"/>
<path d="M704.7 808.4L701.8 804.1" stroke="#00ff00" stroke-width="4.3" fill="none"/>
<path d="M925.4 831L927.1 835.5" stroke="#00ffff" stroke-width="4.3" fill="none"/>
<path d="M707 812.1L704.2 807.7" stroke="#00ff00" stroke-width="4.3" fill="none"/>
<path d="M1637.3 846.6L1638.7 851.2" stroke="#00ffff" stroke-width="4.3" fill="none"/>
<rect x="1156.2" y="878.2" width="21.5" height="21.5" fill="#0000ff"/>
<path d="M709.4 815.7L706.6 811.4" stroke="#00ff00" stroke-width="4.3" fill="none"/>
<circle cx="860.5" cy="864.8" r="14.3" fill="none" stroke="#ff00ff" stroke-width="2"/>
<rect x="1529.8" y="813.5" width="21.5" height="21.5" fill="#0000ff"/>
<path d="M687.9 815.4l32 -18v36z" fill="#ff0000"/>
<path d="M1683.3 856.9L1683 852.1M1538.8 820.2L1540.7 824.7M686.7 911.9L687.7 916.9M1638.6 851.2L1638.3 846.2M923.9 827.3L925.6 831.8" stroke="#00ffff" stroke-width="4.3" fill="none"/>
<path d="M622.7 821.5l32 -18v36z" fill="#0000ff"/>
<path d="M737 790.6L737.9 795.7M731 785.7L732.3 781" stroke="#00ff00" stroke-width="4.3" fill="none"/>
<path d="M1166 884.7L1167 889.4M2146.6 799.8L2143 796.2" stroke="#00ffff" stroke-width="4.3" fill="none"/>
<path d="M708.4 810.9L709.3 815.8" stroke="#00ff00" stroke-width="4.3" fill="none"/>
<path d="M1673.2 835.8L1674.5 840.6M1537.2 816.5L1539.1 820.9M1636.1 842.8L1637.5 847.3M1196.3 866L1197.3 870.8M1540.5 824.7L1540 819.5M2149.2 807.4L2149.3 802.2M1166.9 889.4L1166.9 884.4M922.4 823.5L924.1 828" stroke="#00ffff" stroke-width="4.3" fill="none"/>
<rect x="1578.3" y="823.2" width="21.5" height="21.5" fill="#0000ff"/>
<path d="M697.2 797.4L698.8 792.1" stroke="#00ff00" stroke-width="4.3" fill="none"/>
<circle cx="1182.4" cy="916.3" r="14.3" fill="none" stroke="#ff00ff" stroke-width="2"/>
<rect x="911.8" y="813.1" width="21.5" height="21.5" fill="#ff0000"/>
<path d="M1535.6 812.7L1537.5 817.2" stroke="#00ffff" stroke-width="4.3" fill="none"/>
<circle cx="2169.7" cy="837.3" r="14.3" fill="#fff"/>
<path d="M693.4 925L693.8 919.9M1587.6 829.7L1589.2 834.4M2149.6 802.9L2146 799.3M934.5 845.6L934.5 840.5M685.9 907.7L686.9 912.7M925.8 827.4L922.2 823.6M1635 838.9L1636.4 843.5M1165.1 880.7L1166.1 885.4M1209.3 889.6L1209.5 884.7M1672.1 831.7L1673.4 836.5M1534.1 809L1536 813.5" stroke="#00ffff" stroke-width="4.3" fill="none"/>
<path d="M736.4 786.2L737.2 791.4" stroke="#00ff00" stroke-width="4.3" fill="none"/>
<path d="M1683 852.9L1682.7 848" stroke="#00ffff" stroke-width="4.3" fill="none"/>
<rect x="2138.6" y="791.9" width="21.5" height="21.5" fill="#000000"/>
<path d="M1589.1 834.4L1589 829.4M1195.4 862.1L1196.5 866.8" stroke="#00ffff" stroke-width="4.3" fill="none"/>
<path d="M707.7 806.9L708.6 811.7" stroke="#00ff00" stroke-width="4.3" fill="none"/>
<path d="M1638.4 847L1638.1 841.9M1586.2 825.7L1587.9 830.4M1532.5 805.3L1534.4 809.7M928.8 830.5L925.2 826.8M1540.1 820.3L1539.6 815.2" stroke="#00ffff" stroke-width="4.3" fill="none"/>
<rect x="1184.8" y="851.8" width="21.5" height="21.5" fill="#ff0000"/>
<path d="M1633.8 835.1L1635.2 839.7" stroke="#00ffff" stroke-width="4.3" fill="none"/>
<path d="M657.2 827l32 -18v36z" fill="#ff0000"/>
<path d="M1670.9 827.6L1672.3 832.5" stroke="#00ffff" stroke-width="4.3" fill="none"/>
<path d="M678.7 827.4L676.2 822.6" stroke="#00ff00" stroke-width="4.3" fill="none"/>
<path d="M1164.2 876.8L1165.3 881.5M1166.9 885.2L1166.9 880.1M1530.9 801.5L1532.8 806M685.1 903.5L686.1 908.5M1198.7 865.7L1195.2 862.2M1584.9 821.8L1586.5 826.5" stroke="#00ffff" stroke-width="4.3" fill="none"/>
<path d="M628 846.1l32 -18v36z" fill="#ff0000"/>
<path d="M676.5 823.3L674 818.6M732.1 781.8L733.4 777.1" stroke="#00ff00" stroke-width="4.3" fill="none"/>
<path d="M931.8 833.7L928.2 830" stroke="#00ffff" stroke-width="4.3" fill="none"/>
<path d="M674.4 819.3L671.9 814.6" stroke="#00ff00" stroke-width="4.3" fill="none"/>
<circle cx="2169.7" cy="837.3" r="14.3" fill="none" stroke="#ff00ff" stroke-width="2"/>
<path d="M707 802.8L707.8 807.6M735.7 781.9L736.5 787M677.9 822.6L678.6 827.4" stroke="#00ff00" stroke-width="4.3" fill="none"/>
<path d="M1632.6 831.3L1634 835.8M1529.4 797.8L1531.3 802.3M934.5 841.3L934.5 836.2" stroke="#00ffff" stroke-width="4.3" fill="none"/>
<path d="M672.3 815.3L669.8 810.5" stroke="#00ff00" stroke-width="4.3" fill="none"/>
<path d="M693.7 920.7L694 915.6M1682.7 848.8L1682.4 843.9" stroke="#00ffff" stroke-width="4.3" fill="none"/>
<path d="M649.4 846.5L648.3 841.6" stroke="#00ff00" stroke-width="4.3" fill="none"/>
<path d="M1209.5 885.5L1209.8 880.7M1583.5 817.9L1585.1 822.6" stroke="#00ffff" stroke-width="4.3" fill="none"/>
<path d="M670.1 811.2L667.6 806.5" stroke="#00ff00" stroke-width="4.3" fill="none"/>
<path d="M598 863l32 -18v36z" fill="#ff0000"/>
<path d="M1669.8 823.5L1671.1 828.4M1589 830.2L1589 825.3M1201.6 868.6L1198.1 865.1M1638.1 842.7L1637.8 837.7M1527.8 794.1L1529.7 798.5" stroke="#00ffff" stroke-width="4.3" fill="none"/>
<path d="M649.3 841.5L649.3 846.5" stroke="#00ff00" stroke-width="4.3" fill="none"/>
<path d="M1163.4 872.8L1164.4 877.5M934.8 836.9L931.2 833.1M1539.7 816L1539.2 810.8" stroke="#00ffff" stroke-width="4.3" fill="none"/>
<path d="M698.6 792.8L700.2 787.5" stroke="#00ff00" stroke-width="4.3" fill="none"/>
<path d="M684.3 899.2L685.3 904.2M1631.4 827.4L1632.8 832" stroke="#00ffff" stroke-width="4.3" fill="none"/>
<rect x="1659.2" y="813.1" width="21.5" height="21.5" fill="#ff0000"/>
<path d="M619.4 863.4L618.3 858.7" stroke="#00ff00" stroke-width="4.3" fill="none"/>
<rect x="923.8" y="825.9" width="21.5" height="21.5" fill="#000000"/>
<path d="M618.6 858.6L619.4 863.4" stroke="#00ff00" stroke-width="4.3" fill="none"/>
<path d="M1526.2 790.3L1528.1 794.8M1582.2 813.9L1583.8 818.6" stroke="#00ffff" stroke-width="4.3" fill="none"/>
<circle cx="666.8" cy="939.2" r="14.3" fill="#fff"/>
<path d="M1204.5 871.5L1201 868" stroke="#00ffff" stroke-width="4.3" fill="none"/>
<path d="M706.3 798.7L707.1 803.6" stroke="#00ff00" stroke-width="4.3" fill="none"/>
<path d="M1673.2 827.2L1669.6 823.6" stroke="#00ffff" stroke-width="4.3" fill="none"/>
<rect x="1515.7" y="780" width="21.5" height="21.5" fill="#ff0000"/>
<path d="M1166.9 880.9L1166.9 875.9" stroke="#00ffff" stroke-width="4.3" fill="none"/>
<path d="M735 777.5L735.8 782.7M648.5 842.4L647.4 837.5M677.4 818.5L678 823.4" stroke="#00ff00" stroke-width="4.3" fill="none"/>
<circle cx="608" cy="842" r="15.5" fill="#ff00ff"/>
<path d="M1630.3 823.6L1631.7 828.2M1162.5 868.9L1163.6 873.6" stroke="#00ffff" stroke-width="4.3" fill="none"/>
<path d="M667.7 807.2L669 802.4" stroke="#00ff00" stroke-width="4.3" fill="none"/>
<path d="M1529.7 793.9L1526.1 790.4M1682.5 844.7L1682.1 839.8M1580.8 810L1582.4 814.7" stroke="#00ffff" stroke-width="4.3" fill="none"/>
<path d="M618.4 859.5L617.3 854.8" stroke="#00ff00" stroke-width="4.3" fill="none"/>
<rect x="966.8" y="826.5" width="21.5" height="21.5" fill="#0000ff"/>
<path d="M1207.4 874.4L1203.9 870.9M683.5 895L684.5 900M1676.2 830.3L1672.6 826.7M1637.8 838.5L1637.5 833.5M1589 826.1L1588.9 821.1M694 916.4L694.3 911.3" stroke="#00ffff" stroke-width="4.3" fill="none"/>
<path d="M733.2 777.9L734.5 773.2" stroke="#00ff00" stroke-width="4.3" fill="none"/>
<path d="M1209.7 881.5L1210 876.6M976 833L977.6 837.6M1539.3 811.6L1538.8 806.5" stroke="#00ffff" stroke-width="4.3" fill="none"/>
<path d="M618.1 854.5L618.8 859.4M649.3 837.2L649.3 842.3" stroke="#00ff00" stroke-width="4.3" fill="none"/>
<circle cx="2023.1" cy="789.9" r="14.3" fill="#fff"/>
<path d="M705.6 794.6L706.4 799.5" stroke="#00ff00" stroke-width="4.3" fill="none"/>
<path d="M1629.1 819.8L1630.5 824.3" stroke="#00ffff" stroke-width="4.3" fill="none"/>
<path d="M647.6 838.3L646.6 833.4" stroke="#00ff00" stroke-width="4.3" fill="none"/>
<path d="M1579.4 806.1L1581 810.8M1532.7 796.9L1529.1 793.4" stroke="#00ffff" stroke-width="4.3" fill="none"/>
<circle cx="702.2" cy="790.3" r="15.5" fill="#ff00ff"/>
<path d="M676.9 814.5L677.5 819.3M734.3 773.2L735.1 778.3" stroke="#00ff00" stroke-width="4.3" fill="none"/>
<path d="M1161.7 864.9L1162.7 869.6M1210.3 877.3L1206.8 873.8M1679.2 833.3L1675.6 829.7" stroke="#00ffff" stroke-width="4.3" fill="none"/>
<path d="M617.5 855.6L616.4 850.9" stroke="#00ff00" stroke-width="4.3" fill="none"/>
<path d="M977.5 837.6L977.5 832.4" stroke="#00ffff" stroke-width="4.3" fill="none"/>
<circle cx="666.8" cy="939.2" r="14.3" fill="none" stroke="#ff00ff" stroke-width="2"/>
<path d="M974.7 829.1L976.3 833.7M1166.9 876.7L1166.9 871.6" stroke="#00ffff" stroke-width="4.3" fill="none"/>
<rect x="1199.2" y="866.2" width="21.5" height="21.5" fill="#000000"/>
<rect x="525.9" y="777.6" width="21.5" height="21.5" fill="#000000"/>
<path d="M1578.1 802.1L1579.7 806.8M682.7 890.8L683.7 895.8M1682.2 840.6L1681.9 835.7M1627.9 815.9L1629.3 820.5M1535.7 799.8L1532.1 796.3" stroke="#00ffff" stroke-width="4.3" fill="none"/>
<path d="M713.1 773.6l32 -18v36z" fill="#000000"/>
<path d="M539.8 791.5L536.3 788.1" stroke="#00ffff" stroke-width="4.3" fill="none"/>
<path d="M646.7 834.2L645.7 829.3M617.5 850.5L618.2 855.3" stroke="#00ff00" stroke-width="4.3" fill="none"/>
<path d="M1682.2 836.4L1678.6 832.8" stroke="#00ffff" stroke-width="4.3" fill="none"/>
<path d="M699.9 788.3L701.5 782.9" stroke="#00ff00" stroke-width="4.3" fill="none"/>
<path d="M1637.6 834.2L1637.3 829.2" stroke="#00ffff" stroke-width="4.3" fill="none"/>
<path d="M704.9 790.5L705.7 795.4" stroke="#00ff00" stroke-width="4.3" fill="none"/>
<path d="M973.4 825.3L975 829.9M1160.8 861L1161.8 865.7M1588.9 821.9L1588.8 816.9M1538.9 807.3L1538.4 802.1" stroke="#00ffff" stroke-width="4.3" fill="none"/>
<path d="M616.6 851.7L615.4 847" stroke="#00ff00" stroke-width="4.3" fill="none"/>
<rect x="672" y="880.5" width="21.5" height="21.5" fill="#ff0000"/>
<path d="M1576.7 798.2L1578.3 802.9" stroke="#00ffff" stroke-width="4.3" fill="none"/>
<rect x="1671.2" y="825.4" width="21.5" height="21.5" fill="#000000"/>
<path d="M676.4 810.5L677 815.3" stroke="#00ff00" stroke-width="4.3" fill="none"/>
<path d="M1626.7 812.1L1628.1 816.7" stroke="#00ffff" stroke-width="4.3" fill="none"/>
<rect x="638.4" y="892.4" width="21.5" height="21.5" fill="#0000ff"/>
<path d="M668.8 803.2L670.1 798.4" stroke="#00ff00" stroke-width="4.3" fill="none"/>
<path d="M694.2 912.1L694.6 907" stroke="#00ffff" stroke-width="4.3" fill="none"/>
<path d="M649.4 833L649.3 838" stroke="#00ff00" stroke-width="4.3" fill="none"/>
<path d="M1538.7 802.8L1535.1 799.3" stroke="#00ffff" stroke-width="4.3" fill="none"/>
<circle cx="2023.1" cy="789.9" r="14.3" fill="none" stroke="#ff00ff" stroke-width="2"/>
<path d="M686.1 894.5L682.5 890.9M972 821.4L973.6 826M536.2 788.3L541.1 789.3" stroke="#00ffff" stroke-width="4.3" fill="none"/>
<circle cx="1656.9" cy="861.9" r="14.3" fill="#fff"/>
<path d="M542.8 794.4L539.3 791M647.8 898.7L649.2 903.5" stroke="#00ffff" stroke-width="4.3" fill="none"/>
<rect x="1527.7" y="791.8" width="21.5" height="21.5" fill="#000000"/>
<path d="M1575.3 794.3L1577 799" stroke="#00ffff" stroke-width="4.3" fill="none"/>
<path d="M645.9 830.1L644.8 825.2" stroke="#00ff00" stroke-width="4.3" fill="none"/>
<path d="M977.5 833.2L977.5 828" stroke="#00ffff" stroke-width="4.3" fill="none"/>
<path d="M615.6 847.8L614.5 843.1" stroke="#00ff00" stroke-width="4.3" fill="none"/>
<path d="M1625.6 808.3L1627 812.8M1160 857L1161 861.7" stroke="#00ffff" stroke-width="4.3" fill="none"/>
<path d="M704.2 786.5L705 791.3" stroke="#00ff00" stroke-width="4.3" fill="none"/>
<path d="M1166.9 872.4L1166.9 867.4" stroke="#00ffff" stroke-width="4.3" fill="none"/>
<path d="M616.9 846.4L617.6 851.3" stroke="#00ff00" stroke-width="4.3" fill="none"/>
<path d="M970.7 817.6L972.3 822.2M689.1 897.4L685.5 893.9M1637.3 830L1637 825M545.7 797.3L542.2 793.9M649 903.5L650 898.3M1574 790.3L1575.6 795" stroke="#00ffff" stroke-width="4.3" fill="none"/>
<path d="M675.8 806.5L676.5 811.3" stroke="#00ff00" stroke-width="4.3" fill="none"/>
<path d="M646.7 894.7L648.1 899.5M1588.8 817.7L1588.7 812.7M1624.4 804.4L1625.8 809" stroke="#00ffff" stroke-width="4.3" fill="none"/>
<rect x="1563.3" y="780" width="21.5" height="21.5" fill="#ff0000"/>
<path d="M969.4 813.8L971 818.4" stroke="#00ffff" stroke-width="4.3" fill="none"/>
<path d="M645 826L643.9 821.1M614.7 843.8L613.5 839.2" stroke="#00ff00" stroke-width="4.3" fill="none"/>
<circle cx="2123.1" cy="810.2" r="14.3" fill="#fff"/>
<path d="M692.1 900.4L688.5 896.9M1159.1 853.1L1160.1 857.8" stroke="#00ffff" stroke-width="4.3" fill="none"/>
<path d="M649.4 828.8L649.4 833.8" stroke="#00ff00" stroke-width="4.3" fill="none"/>
<rect x="1110.5" y="849.5" width="21.5" height="21.5" fill="#0000ff"/>
<rect x="1613.8" y="794" width="21.5" height="21.5" fill="#ff0000"/>
<path d="M548.7 800.2L545.2 796.7M1577.3 793.8L1573.8 790.4" stroke="#00ffff" stroke-width="4.3" fill="none"/>
<path d="M703.4 782.4L704.3 787.2" stroke="#00ff00" stroke-width="4.3" fill="none"/>
<circle cx="1463" cy="810.6" r="14.3" fill="#fff"/>
<path d="M694.5 907.8L694.8 902.7" stroke="#00ffff" stroke-width="4.3" fill="none"/>
<circle cx="637.1" cy="810.7" r="15.5" fill="#ff00ff"/>
<path d="M616.3 842.4L617 847.2" stroke="#00ff00" stroke-width="4.3" fill="none"/>
<circle cx="1656.9" cy="861.9" r="14.3" fill="none" stroke="#ff00ff" stroke-width="2"/>
<path d="M645.5 890.8L646.9 895.5M1120.1 855.9L1121.4 860.6M968 809.9L969.6 814.5M1627.8 808.1L1624.2 804.5" stroke="#00ffff" stroke-width="4.3" fill="none"/>
<path d="M701.3 783.7L702.9 778.3" stroke="#00ff00" stroke-width="4.3" fill="none"/>
<path d="M977.5 828.8L977.5 823.5" stroke="#00ffff" stroke-width="4.3" fill="none"/>
<path d="M669.9 799.2L671.2 794.4" stroke="#00ff00" stroke-width="4.3" fill="none"/>
<path d="M1166.9 868.2L1166.9 863.1" stroke="#00ffff" stroke-width="4.3" fill="none"/>
<path d="M675.3 802.4L676 807.2" stroke="#00ff00" stroke-width="4.3" fill="none"/>
<path d="M695.1 903.4L691.5 899.8" stroke="#00ffff" stroke-width="4.3" fill="none"/>
<path d="M613.7 839.9L612.6 835.3" stroke="#00ff00" stroke-width="4.3" fill="none"/>
<path d="M1637 825.8L1636.7 820.7M540.3 789.1L545.1 790.1M551.7 803L548.1 799.6M1580.2 796.6L1576.7 793.2M1121.3 860.6L1121.3 855.4M1158.2 849.1L1159.3 853.8" stroke="#00ffff" stroke-width="4.3" fill="none"/>
<rect x="684" y="892.4" width="21.5" height="21.5" fill="#000000"/>
<path d="M966.7 806.1L968.3 810.7M644.4 886.8L645.8 891.5M1588.7 813.5L1588.7 808.6M1630.8 811.1L1627.2 807.5" stroke="#00ffff" stroke-width="4.3" fill="none"/>
<circle cx="669.2" cy="793" r="15.5" fill="#ff00ff"/>
<path d="M1119 852.1L1120.3 856.7" stroke="#00ffff" stroke-width="4.3" fill="none"/>
<circle cx="2073.5" cy="793.1" r="14.3" fill="#fff"/>
<path d="M702.7 778.3L703.6 783.2M615.7 838.3L616.4 843.2" stroke="#00ff00" stroke-width="4.3" fill="none"/>
<circle cx="2123.1" cy="810.2" r="14.3" fill="none" stroke="#ff00ff" stroke-width="2"/>
<path d="M643.9 821.9L645.2 816.7" stroke="#00ff00" stroke-width="4.3" fill="none"/>
<path d="M649.9 899.1L650.8 894M1583.1 799.4L1579.6 796.1M554.6 805.9L551.1 802.5" stroke="#00ffff" stroke-width="4.3" fill="none"/>
<path d="M649.4 824.5L649.4 829.6M612.8 836L611.6 831.3" stroke="#00ff00" stroke-width="4.3" fill="none"/>
<path d="M965.4 802.2L967 806.8" stroke="#00ffff" stroke-width="4.3" fill="none"/>
<circle cx="1463" cy="810.6" r="14.3" fill="none" stroke="#ff00ff" stroke-width="2"/>
<path d="M681.5 778.7l32 -18v36z" fill="#000000"/>
<path d="M1633.8 814.2L1630.2 810.6" stroke="#00ffff" stroke-width="4.3" fill="none"/>
<path d="M674.8 798.4L675.4 803.2" stroke="#00ff00" stroke-width="4.3" fill="none"/>
<path d="M643.2 882.8L644.6 887.6M1157.4 845.2L1158.4 849.9M1117.8 848.2L1119.2 852.8" stroke="#00ffff" stroke-width="4.3" fill="none"/>
<circle cx="904.1" cy="837.4" r="14.3" fill="#fff"/>
<rect x="954.8" y="791.9" width="21.5" height="21.5" fill="#ff0000"/>
<path d="M968.1 806.3L965.3 802.3M977.5 824.3L977.5 819.1M1636.8 821.5L1636.5 816.5M1166.9 863.9L1166.9 858.9M970.5 809.7L967.7 805.7M1586 802.3L1582.5 798.9M557.6 808.8L554 805.3" stroke="#00ffff" stroke-width="4.3" fill="none"/>
<path d="M615.1 834.3L615.8 839.1" stroke="#00ff00" stroke-width="4.3" fill="none"/>
<path d="M972.9 813.1L970.1 809M1121.3 856.2L1121.3 851" stroke="#00ffff" stroke-width="4.3" fill="none"/>
<path d="M611.8 832.1L610.7 827.4" stroke="#00ff00" stroke-width="4.3" fill="none"/>
<path d="M1636.8 817.2L1633.2 813.6M1588.7 809.4L1588.6 804.4M642.1 878.8L643.5 883.6M1116.7 844.3L1118.1 849M975.3 816.4L972.5 812.4" stroke="#00ffff" stroke-width="4.3" fill="none"/>
<path d="M671 795.1L672.3 790.3" stroke="#00ff00" stroke-width="4.3" fill="none"/>
<circle cx="2073.5" cy="793.1" r="14.3" fill="none" stroke="#ff00ff" stroke-width="2"/>
<path d="M1156.5 841.2L1157.6 845.9" stroke="#00ffff" stroke-width="4.3" fill="none"/>
<rect x="1625.8" y="806.1" width="21.5" height="21.5" fill="#000000"/>
<path d="M977.7 819.8L974.9 815.8M544.4 790L549.2 791" stroke="#00ffff" stroke-width="4.3" fill="none"/>
<rect x="966.8" y="808.8" width="21.5" height="21.5" fill="#000000"/>
<path d="M1588.9 805.1L1585.4 801.7" stroke="#00ffff" stroke-width="4.3" fill="none"/>
<path d="M674.3 794.4L674.9 799.2" stroke="#00ff00" stroke-width="4.3" fill="none"/>
<path d="M560.5 811.6L557 808.2" stroke="#00ffff" stroke-width="4.3" fill="none"/>
<rect x="1014.7" y="819.1" width="21.5" height="21.5" fill="#0000ff"/>
<path d="M649.4 820.3L649.4 825.3" stroke="#00ff00" stroke-width="4.3" fill="none"/>
<rect x="1577.8" y="794" width="21.5" height="21.5" fill="#000000"/>
<path d="M610.9 828.2L609.7 823.5" stroke="#00ff00" stroke-width="4.3" fill="none"/>
<path d="M640.9 874.8L642.3 879.6M1023.7 825.4L1025.5 830.3M1115.6 840.4L1116.9 845.1" stroke="#00ffff" stroke-width="4.3" fill="none"/>
<circle cx="904.1" cy="837.4" r="14.3" fill="none" stroke="#ff00ff" stroke-width="2"/>
<path d="M614.5 830.2L615.2 835.1" stroke="#00ff00" stroke-width="4.3" fill="none"/>
<path d="M650.7 894.8L651.7 889.6" stroke="#00ffff" stroke-width="4.3" fill="none"/>
<circle cx="1143.6" cy="886.8" r="14.3" fill="#fff"/>
<path d="M1155.7 837.3L1156.7 842M563.5 814.5L559.9 811.1M1166.9 859.7L1166.9 854.6" stroke="#00ffff" stroke-width="4.3" fill="none"/>
<path d="M645 817.5L646.3 812.3" stroke="#00ff00" stroke-width="4.3" fill="none"/>
<path d="M1025.4 830.3L1025.4 825.5M1022.1 821.3L1023.9 826.2M1121.3 851.8L1121.3 846.6M639.8 870.8L641.2 875.6" stroke="#00ffff" stroke-width="4.3" fill="none"/>
<path d="M673.8 790.3L674.4 795.2" stroke="#00ff00" stroke-width="4.3" fill="none"/>
<path d="M1114.5 836.6L1115.8 841.2" stroke="#00ffff" stroke-width="4.3" fill="none"/>
<path d="M609.9 824.3L608.8 819.6" stroke="#00ff00" stroke-width="4.3" fill="none"/>
<path d="M566.4 817.4L562.9 814M1020.5 817.2L1022.3 822.1" stroke="#00ffff" stroke-width="4.3" fill="none"/>
<rect x="1063.8" y="827.9" width="21.5" height="21.5" fill="#0000ff"/>
<path d="M1154.8 833.3L1155.8 838" stroke="#00ffff" stroke-width="4.3" fill="none"/>
<path d="M613.9 826.2L614.6 831M649.4 816L649.4 821.1M672.1 791.1L673.4 786.3" stroke="#00ff00" stroke-width="4.3" fill="none"/>
<path d="M638.6 866.9L640 871.6M1113.4 832.7L1114.7 837.3M1073.1 834.4L1074.6 839M1018.9 813.1L1020.7 817.9" stroke="#00ffff" stroke-width="4.3" fill="none"/>
<path d="M609 820.4L607.9 815.7" stroke="#00ff00" stroke-width="4.3" fill="none"/>
<path d="M548.4 790.8L553.3 791.8" stroke="#00ffff" stroke-width="4.3" fill="none"/>
<rect x="1144.2" y="823" width="21.5" height="21.5" fill="#ff0000"/>
<path d="M569.4 820.2L565.8 816.8M1157.5 837.4L1154.7 833.4M1166.9 855.4L1166.9 850.4" stroke="#00ffff" stroke-width="4.3" fill="none"/>
<circle cx="1143.6" cy="886.8" r="14.3" fill="none" stroke="#ff00ff" stroke-width="2"/>
<path d="M1074.5 839L1074.3 834.2" stroke="#00ffff" stroke-width="4.3" fill="none"/>
<path d="M673.2 786.3L673.9 791.1" stroke="#00ff00" stroke-width="4.3" fill="none"/>
<path d="M1025.4 826.3L1025.4 821.5M1159.9 840.9L1157.1 836.8M1071.8 830.6L1073.3 835.2M1017.3 809L1019.1 813.8M1162.3 844.3L1159.5 840.2M1112.3 828.8L1113.6 833.4M637.5 862.9L638.9 867.6M1121.3 847.4L1121.3 842.1M651.5 890.4L652.5 885.2M1164.7 847.7L1161.9 843.6" stroke="#00ffff" stroke-width="4.3" fill="none"/>
<path d="M613.3 822.1L614 827" stroke="#00ff00" stroke-width="4.3" fill="none"/>
<path d="M652 786.7l32 -18v36z" fill="#000000"/>
<path d="M572.3 823.1L568.8 819.7" stroke="#00ffff" stroke-width="4.3" fill="none"/>
<path d="M608 816.5L606.9 811.8" stroke="#00ff00" stroke-width="4.3" fill="none"/>
<path d="M1167.1 851.1L1164.3 847.1" stroke="#00ffff" stroke-width="4.3" fill="none"/>
<path d="M646.1 813.1L647.4 807.9" stroke="#00ff00" stroke-width="4.3" fill="none"/>
<rect x="1156.2" y="840" width="21.5" height="21.5" fill="#000000"/>
<path d="M1015.7 804.9L1017.5 809.7M1070.5 826.8L1072 831.4" stroke="#00ffff" stroke-width="4.3" fill="none"/>
<path d="M649.4 811.8L649.4 816.8" stroke="#00ff00" stroke-width="4.3" fill="none"/>
<path d="M1111.2 824.9L1112.5 829.6M636.3 858.9L637.7 863.7M575.3 826L571.8 822.6M1074.3 835L1074.1 830.2M1014.1 800.7L1015.9 805.6" stroke="#00ffff" stroke-width="4.3" fill="none"/>
<path d="M607.1 812.6L606 807.9" stroke="#00ff00" stroke-width="4.3" fill="none"/>
<path d="M1069.2 823L1070.8 827.6M1025.4 822.3L1025.4 817.5" stroke="#00ffff" stroke-width="4.3" fill="none"/>
<circle cx="1611.7" cy="832.9" r="14.3" fill="#fff"/>
<path d="M612.7 818.1L613.4 822.9" stroke="#00ff00" stroke-width="4.3" fill="none"/>
<path d="M1110 821L1111.4 825.7M635.2 854.9L636.6 859.7M1012.5 796.6L1014.3 801.5M552.5 791.6L557.4 792.6M1121.3 842.9L1121.3 837.7M578.2 828.9L574.7 825.4M1067.9 819.2L1069.5 823.8" stroke="#00ffff" stroke-width="4.3" fill="none"/>
<rect x="624.5" y="844.5" width="21.5" height="21.5" fill="#ff0000"/>
<circle cx="1512.5" cy="803.8" r="14.3" fill="#fff"/>
<path d="M606.2 808.7L605 804" stroke="#00ff00" stroke-width="4.3" fill="none"/>
<path d="M1010.9 792.5L1012.7 797.4" stroke="#00ffff" stroke-width="4.3" fill="none"/>
<path d="M649.5 807.6L649.4 812.6" stroke="#00ff00" stroke-width="4.3" fill="none"/>
<path d="M652.4 886L653.3 880.9M638.2 858.7L635 855M1108.9 817.2L1110.3 821.8M1074.1 831L1073.9 826.2M1066.6 815.4L1068.2 820" stroke="#00ffff" stroke-width="4.3" fill="none"/>
<rect x="1000.2" y="782.1" width="21.5" height="21.5" fill="#ff0000"/>
<path d="M612.1 814.1L612.8 818.9" stroke="#00ff00" stroke-width="4.3" fill="none"/>
<path d="M581.2 831.7L577.7 828.3M1025.4 818.3L1025.4 813.5M1014.1 796.6L1010.7 792.6M640.9 861.8L637.7 858.1" stroke="#00ffff" stroke-width="4.3" fill="none"/>
<path d="M647.2 808.7L648.5 803.5" stroke="#00ff00" stroke-width="4.3" fill="none"/>
<circle cx="629.7" cy="911.5" r="14.3" fill="#fff"/>
<circle cx="1611.7" cy="832.9" r="14.3" fill="none" stroke="#ff00ff" stroke-width="2"/>
<path d="M605.2 804.8L604.1 800.1" stroke="#00ff00" stroke-width="4.3" fill="none"/>
<path d="M1065.3 811.6L1066.9 816.2M1107.8 813.3L1109.1 817.9M1017 800L1013.6 796M643.6 864.9L640.4 861.2M584.1 834.6L580.6 831.2M1121.3 838.5L1121.3 833.3" stroke="#00ffff" stroke-width="4.3" fill="none"/>
<circle cx="1512.5" cy="803.8" r="14.3" fill="none" stroke="#ff00ff" stroke-width="2"/>
<path d="M611.5 810L612.2 814.9" stroke="#00ff00" stroke-width="4.3" fill="none"/>
<path d="M1019.9 803.4L1016.5 799.4M1064 807.8L1065.6 812.4M646.3 867.9L643.1 864.3M1073.9 827L1073.7 822.2" stroke="#00ffff" stroke-width="4.3" fill="none"/>
<path d="M604.3 800.9L603.1 796.2M649.5 803.3L649.5 808.4" stroke="#00ff00" stroke-width="4.3" fill="none"/>
<path d="M556.6 792.4L561.4 793.4M1106.7 809.4L1108 814.1M587.1 837.5L583.6 834M1025.4 814.3L1025.4 809.5M1022.8 806.8L1019.4 802.8M649 871L645.8 867.3" stroke="#00ffff" stroke-width="4.3" fill="none"/>
<rect x="1096" y="799" width="21.5" height="21.5" fill="#ff0000"/>
<path d="M1062.7 804L1064.3 808.6M1109.5 813.4L1106.6 809.5M653.2 881.7L654.2 876.5" stroke="#00ffff" stroke-width="4.3" fill="none"/>
<circle cx="629.7" cy="911.5" r="14.3" fill="none" stroke="#ff00ff" stroke-width="2"/>
<circle cx="1562.9" cy="811.9" r="14.3" fill="#fff"/>
<path d="M1111.9 816.6L1109 812.7M1025.7 810.2L1022.3 806.2" stroke="#00ffff" stroke-width="4.3" fill="none"/>
<path d="M603.3 796.9L602.2 792.3" stroke="#00ff00" stroke-width="4.3" fill="none"/>
<path d="M651.7 874.1L648.5 870.4M590 840.3L586.5 836.9" stroke="#00ffff" stroke-width="4.3" fill="none"/>
<path d="M610.9 806L611.6 810.8" stroke="#00ff00" stroke-width="4.3" fill="none"/>
<path d="M1114.3 819.9L1111.4 816" stroke="#00ffff" stroke-width="4.3" fill="none"/>
<rect x="1014.7" y="799.1" width="21.5" height="21.5" fill="#000000"/>
<path d="M1061.5 800.2L1063 804.8M1121.3 834.1L1121.3 828.9" stroke="#00ffff" stroke-width="4.3" fill="none"/>
<path d="M648.3 804.3L649.6 799.1" stroke="#00ff00" stroke-width="4.3" fill="none"/>
<path d="M1073.7 823L1073.5 818.2M1116.7 823.1L1113.8 819.2M654.4 877.2L651.2 873.5" stroke="#00ffff" stroke-width="4.3" fill="none"/>
<path d="M649.5 799.1L649.5 804.1" stroke="#00ff00" stroke-width="4.3" fill="none"/>
<path d="M1119.1 826.4L1116.2 822.5" stroke="#00ffff" stroke-width="4.3" fill="none"/>
<rect x="643.4" y="866.1" width="21.5" height="21.5" fill="#000000"/>
<path d="M593 843.2L589.5 839.8M1060.2 796.4L1061.7 801" stroke="#00ffff" stroke-width="4.3" fill="none"/>
<path d="M602.4 793L601.2 788.4" stroke="#00ff00" stroke-width="4.3" fill="none"/>
<path d="M1121.5 829.6L1118.6 825.7" stroke="#00ffff" stroke-width="4.3" fill="none"/>
<rect x="1110.5" y="818.5" width="21.5" height="21.5" fill="#000000"/>
<path d="M610.3 801.9L611 806.8" stroke="#00ff00" stroke-width="4.3" fill="none"/>
<path d="M560.7 793.3L565.5 794.3" stroke="#00ffff" stroke-width="4.3" fill="none"/>
<circle cx="1562.9" cy="811.9" r="14.3" fill="none" stroke="#ff00ff" stroke-width="2"/>
<path d="M596 846.1L592.4 842.7M1058.9 792.6L1060.4 797.2" stroke="#00ffff" stroke-width="4.3" fill="none"/>
<path d="M628.2 799.5l32 -18v36z" fill="#000000"/>
<circle cx="951.9" cy="821.2" r="14.3" fill="#fff"/>
<path d="M601.4 789.1L600.3 784.4" stroke="#00ff00" stroke-width="4.3" fill="none"/>
<rect x="1048.2" y="782.2" width="21.5" height="21.5" fill="#ff0000"/>
<path d="M1073.5 819L1073.3 814.2M1061.6 796.9L1058.8 792.7M1064 800.5L1061.2 796.3M1066.4 804.1L1063.5 799.9M1068.8 807.7L1065.9 803.5M598.9 848.9L595.4 845.5M1071.1 811.3L1068.3 807.1" stroke="#00ffff" stroke-width="4.3" fill="none"/>
<path d="M609.7 797.9L610.4 802.7" stroke="#00ff00" stroke-width="4.3" fill="none"/>
<path d="M1073.5 814.9L1070.7 810.7" stroke="#00ffff" stroke-width="4.3" fill="none"/>
<rect x="1062.5" y="803.9" width="21.5" height="21.5" fill="#000000"/>
<path d="M600.5 785.2L599.3 780.5" stroke="#00ff00" stroke-width="4.3" fill="none"/>
<path d="M601.9 851.8L598.3 848.4" stroke="#00ffff" stroke-width="4.3" fill="none"/>
<circle cx="1099.9" cy="856.4" r="14.3" fill="#fff"/>
<circle cx="951.9" cy="821.2" r="14.3" fill="none" stroke="#ff00ff" stroke-width="2"/>
<path d="M564.7 794.1L569.6 795.1" stroke="#00ffff" stroke-width="4.3" fill="none"/>
<path d="M609.1 793.8L609.8 798.7M599.5 781.3L598.4 776.6" stroke="#00ff00" stroke-width="4.3" fill="none"/>
<path d="M604.8 854.7L601.3 851.3" stroke="#00ffff" stroke-width="4.3" fill="none"/>
<path d="M598.6 777.4L597.5 772.7" stroke="#00ff00" stroke-width="4.3" fill="none"/>
<path d="M607.8 857.6L604.2 854.1" stroke="#00ffff" stroke-width="4.3" fill="none"/>
<path d="M608.5 789.8L609.2 794.6" stroke="#00ff00" stroke-width="4.3" fill="none"/>
<circle cx="1099.9" cy="856.4" r="14.3" fill="none" stroke="#ff00ff" stroke-width="2"/>
<path d="M610.7 860.4L607.2 857" stroke="#00ffff" stroke-width="4.3" fill="none"/>
<path d="M597.6 773.5L596.5 768.8" stroke="#00ff00" stroke-width="4.3" fill="none"/>
<path d="M568.8 794.9L573.7 795.9" stroke="#00ffff" stroke-width="4.3" fill="none"/>
<path d="M575.3 769.2l32 -18v36z" fill="#0000ff"/>
<path d="M607.9 785.7L608.6 790.6" stroke="#00ff00" stroke-width="4.3" fill="none"/>
<path d="M613.7 863.3L610.1 859.9M616.6 866.2L613.1 862.7" stroke="#00ffff" stroke-width="4.3" fill="none"/>
<path d="M596.2 769L601.8 771.8M607.3 781.7L608 786.5" stroke="#00ff00" stroke-width="4.3" fill="none"/>
<path d="M619.6 869L616.1 865.6" stroke="#00ffff" stroke-width="4.3" fill="none"/>
<circle cx="1001.9" cy="819.4" r="14.3" fill="#fff"/>
<path d="M572.9 795.7L577.7 796.7" stroke="#00ffff" stroke-width="4.3" fill="none"/>
<path d="M606.7 777.6L607.4 782.5" stroke="#00ff00" stroke-width="4.3" fill="none"/>
<path d="M622.5 871.9L619 868.5" stroke="#00ffff" stroke-width="4.3" fill="none"/>
<circle cx="1052" cy="832.1" r="14.3" fill="#fff"/>
<path d="M601 771.4L606.6 774.2" stroke="#00ff00" stroke-width="4.3" fill="none"/>
<path d="M625.5 874.8L622 871.4" stroke="#00ffff" stroke-width="4.3" fill="none"/>
<path d="M539.4 769.5l32 -18v36z" fill="#ff0000"/>
<path d="M606.1 773.6L606.9 778.4" stroke="#00ff00" stroke-width="4.3" fill="none"/>
<circle cx="1001.9" cy="819.4" r="14.3" fill="none" stroke="#ff00ff" stroke-width="2"/>
<rect x="614.5" y="863.8" width="21.5" height="21.5" fill="#0000ff"/>
<path d="M560.7 764.9L560.7 769.9" stroke="#00ff00" stroke-width="4.3" fill="none"/>
<path d="M584.9 774l32 -18v36z" fill="#000000"/>
<circle cx="1052" cy="832.1" r="14.3" fill="none" stroke="#ff00ff" stroke-width="2"/>
<path d="M624.7 870L625.2 874.9M577 796.6L581.8 797.6" stroke="#00ffff" stroke-width="4.3" fill="none"/>
<path d="M560.5 769.9L562.5 765.4" stroke="#00ff00" stroke-width="4.3" fill="none"/>
<path d="M624.3 865.9L624.8 870.8" stroke="#00ffff" stroke-width="4.3" fill="none"/>
<path d="M560.7 760.7L560.7 765.7" stroke="#00ff00" stroke-width="4.3" fill="none"/>
<path d="M581 797.4L585.9 798.4M623.9 861.8L624.4 866.7" stroke="#00ffff" stroke-width="4.3" fill="none"/>
<path d="M562.2 766.1L564.1 761.6M560.7 756.5L560.7 761.5" stroke="#00ff00" stroke-width="4.3" fill="none"/>
<path d="M623.5 857.7L624 862.6" stroke="#00ffff" stroke-width="4.3" fill="none"/>
<path d="M560.7 752.2L560.7 757.3" stroke="#00ff00" stroke-width="4.3" fill="none"/>
<path d="M585.1 798.2L590 799.2" stroke="#00ffff" stroke-width="4.3" fill="none"/>
<path d="M563.8 762.4L565.7 757.9" stroke="#00ff00" stroke-width="4.3" fill="none"/>
<path d="M623.1 853.6L623.6 858.5" stroke="#00ffff" stroke-width="4.3" fill="none"/>
<path d="M560.7 748L560.7 753" stroke="#00ff00" stroke-width="4.3" fill="none"/>
<path d="M622.7 849.5L623.2 854.4M589.2 799L594 800" stroke="#00ffff" stroke-width="4.3" fill="none"/>
<path d="M565.4 758.6L567.3 754.1" stroke="#00ff00" stroke-width="4.3" fill="none"/>
<path d="M622.2 845.4L622.7 850.3" stroke="#00ffff" stroke-width="4.3" fill="none"/>
<path d="M560.7 743.8L560.7 748.8" stroke="#00ff00" stroke-width="4.3" fill="none"/>
<path d="M621.8 841.3L622.3 846.2M593.3 799.9L598.1 800.9" stroke="#00ffff" stroke-width="4.3" fill="none"/>
<path d="M560.7 739.6L560.7 744.6M567 754.8L568.9 750.3" stroke="#00ff00" stroke-width="4.3" fill="none"/>
<path d="M621.4 837.3L621.9 842.1" stroke="#00ffff" stroke-width="4.3" fill="none"/>
<path d="M560.7 735.4L560.7 740.4" stroke="#00ff00" stroke-width="4.3" fill="none"/>
<path d="M597.3 800.7L602.2 801.7M621 833.2L621.5 838.1" stroke="#00ffff" stroke-width="4.3" fill="none"/>
<path d="M568.6 751.1L570.5 746.6M560.7 731.2L560.7 736.2" stroke="#00ff00" stroke-width="4.3" fill="none"/>
<path d="M620.6 829.1L621.1 834M601.4 801.5L606.3 802.5" stroke="#00ffff" stroke-width="4.3" fill="none"/>
<path d="M560.7 727L560.7 732" stroke="#00ff00" stroke-width="4.3" fill="none"/>
<path d="M620.1 825L620.6 829.9" stroke="#00ffff" stroke-width="4.3" fill="none"/>
<path d="M570.2 747.3L572.2 742.8" stroke="#00ff00" stroke-width="4.3" fill="none"/>
<path d="M619.7 820.9L620.2 825.8M605.5 802.3L610.3 803.3" stroke="#00ffff" stroke-width="4.3" fill="none"/>
<path d="M560.7 722.8L560.7 727.8" stroke="#00ff00" stroke-width="4.3" fill="none"/>
<path d="M550.7 743.2l32 -18v36z" fill="#0000ff"/>
<path d="M572.1 743.6L570.8 738.7" stroke="#00ff00" stroke-width="4.3" fill="none"/>
<path d="M619.3 816.8L619.8 821.7" stroke="#00ffff" stroke-width="4.3" fill="none"/>
<path d="M571 739.5L569.6 734.6M560.7 718.6L560.7 723.6" stroke="#00ff00" stroke-width="4.3" fill="none"/>
<path d="M609.6 803.2L614.4 804.2M618.9 812.7L619.4 817.6" stroke="#00ffff" stroke-width="4.3" fill="none"/>
<path d="M569.8 735.4L568.5 730.5M560.7 714.3L560.7 719.4M568.7 731.3L567.4 726.4" stroke="#00ff00" stroke-width="4.3" fill="none"/>
<path d="M618.5 808.6L619 813.5" stroke="#00ffff" stroke-width="4.3" fill="none"/>
<path d="M567.6 727.1L566.2 722.3" stroke="#00ff00" stroke-width="4.3" fill="none"/>
<path d="M613.6 804L618.5 805" stroke="#00ffff" stroke-width="4.3" fill="none"/>
<path d="M560.7 710.1L560.7 715.1" stroke="#00ff00" stroke-width="4.3" fill="none"/>
<path d="M618.1 804.5L618.6 809.4" stroke="#00ffff" stroke-width="4.3" fill="none"/>
<path d="M566.5 723L565.1 718.2" stroke="#00ff00" stroke-width="4.3" fill="none"/>
<rect x="607.4" y="794.1" width="21.5" height="21.5" fill="#ff0000"/>
<path d="M565.3 718.9L564 714M560.7 705.9L560.7 710.9M564.2 714.8L562.9 709.9M563.1 710.7L561.7 705.8M560.7 701.7L560.7 706.7M561.9 706.6L560.6 701.7" stroke="#00ff00" stroke-width="4.3" fill="none"/>
<path d="M539.4 702.1l32 -18v36z" fill="#000000"/>
</g>
<rect x="1770.6" y="55.0" width="271" height="639.3" fill="#fff" stroke="#262626" stroke-width="2.4"/>
<circle cx="1855.8" cy="99.3" r="15.5" fill="#ff00ff"/>
<text x="1937.5" y="106.3" font-size="42.75" fill="#000"><tspan>y</tspan><tspan font-size="33.3" dy="22.4">d</tspan><tspan dy="-22.4" dx="1.5" font-size="1">&#8203;</tspan></text>
<circle cx="1855.8" cy="178" r="14.3" fill="#fff" stroke="#ff00ff" stroke-width="2"/>
<text x="1937.5" y="184.8" font-size="42.75" fill="#000"><tspan>-y</tspan><tspan font-size="33.3" dy="22.4">d</tspan><tspan dy="-22.4" dx="1.5" font-size="1">&#8203;</tspan></text>
<path d="M1834.2 256.5l33 -18v36z" fill="#0000ff"/>
<text x="1937.5" y="263.4" font-size="42.75" fill="#000"><tspan>y</tspan><tspan font-size="33.3" dy="22.4">1</tspan><tspan dy="-22.4" dx="1.5" font-size="1">&#8203;</tspan><tspan>(k)</tspan></text>
<path d="M1834.2 335.5l33 -18v36z" fill="#000000"/>
<text x="1937.5" y="341.9" font-size="42.75" fill="#000"><tspan>y</tspan><tspan font-size="33.3" dy="22.4">2</tspan><tspan dy="-22.4" dx="1.5" font-size="1">&#8203;</tspan><tspan>(k)</tspan></text>
<path d="M1834.2 414.5l33 -18v36z" fill="#ff0000"/>
<text x="1937.5" y="420.4" font-size="42.75" fill="#000"><tspan>y</tspan><tspan font-size="33.3" dy="22.4">3</tspan><tspan dy="-22.4" dx="1.5" font-size="1">&#8203;</tspan><tspan>(k)</tspan></text>
<rect x="1843.8" y="482.8" width="21.5" height="21.5" fill="#0000ff"/>
<text x="1937.5" y="499.7" font-size="42.75" fill="#000"><tspan>y</tspan><tspan font-size="33.3" dy="22.4">4</tspan><tspan dy="-22.4" dx="1.5" font-size="1">&#8203;</tspan><tspan>(k)</tspan></text>
<rect x="1843.8" y="562" width="21.5" height="21.5" fill="#000000"/>
<text x="1937.5" y="579" font-size="42.75" fill="#000"><tspan>y</tspan><tspan font-size="33.3" dy="22.4">5</tspan><tspan dy="-22.4" dx="1.5" font-size="1">&#8203;</tspan><tspan>(k)</tspan></text>
<rect x="1843.8" y="638.5" width="21.5" height="21.5" fill="#ff0000"/>
<text x="1937.5" y="658.3" font-size="42.75" fill="#000"><tspan>y</tspan><tspan font-size="33.3" dy="22.4">6</tspan><tspan dy="-22.4" dx="1.5" font-size="1">&#8203;</tspan><tspan>(k)</tspan></text>
</svg>
</body></html>
